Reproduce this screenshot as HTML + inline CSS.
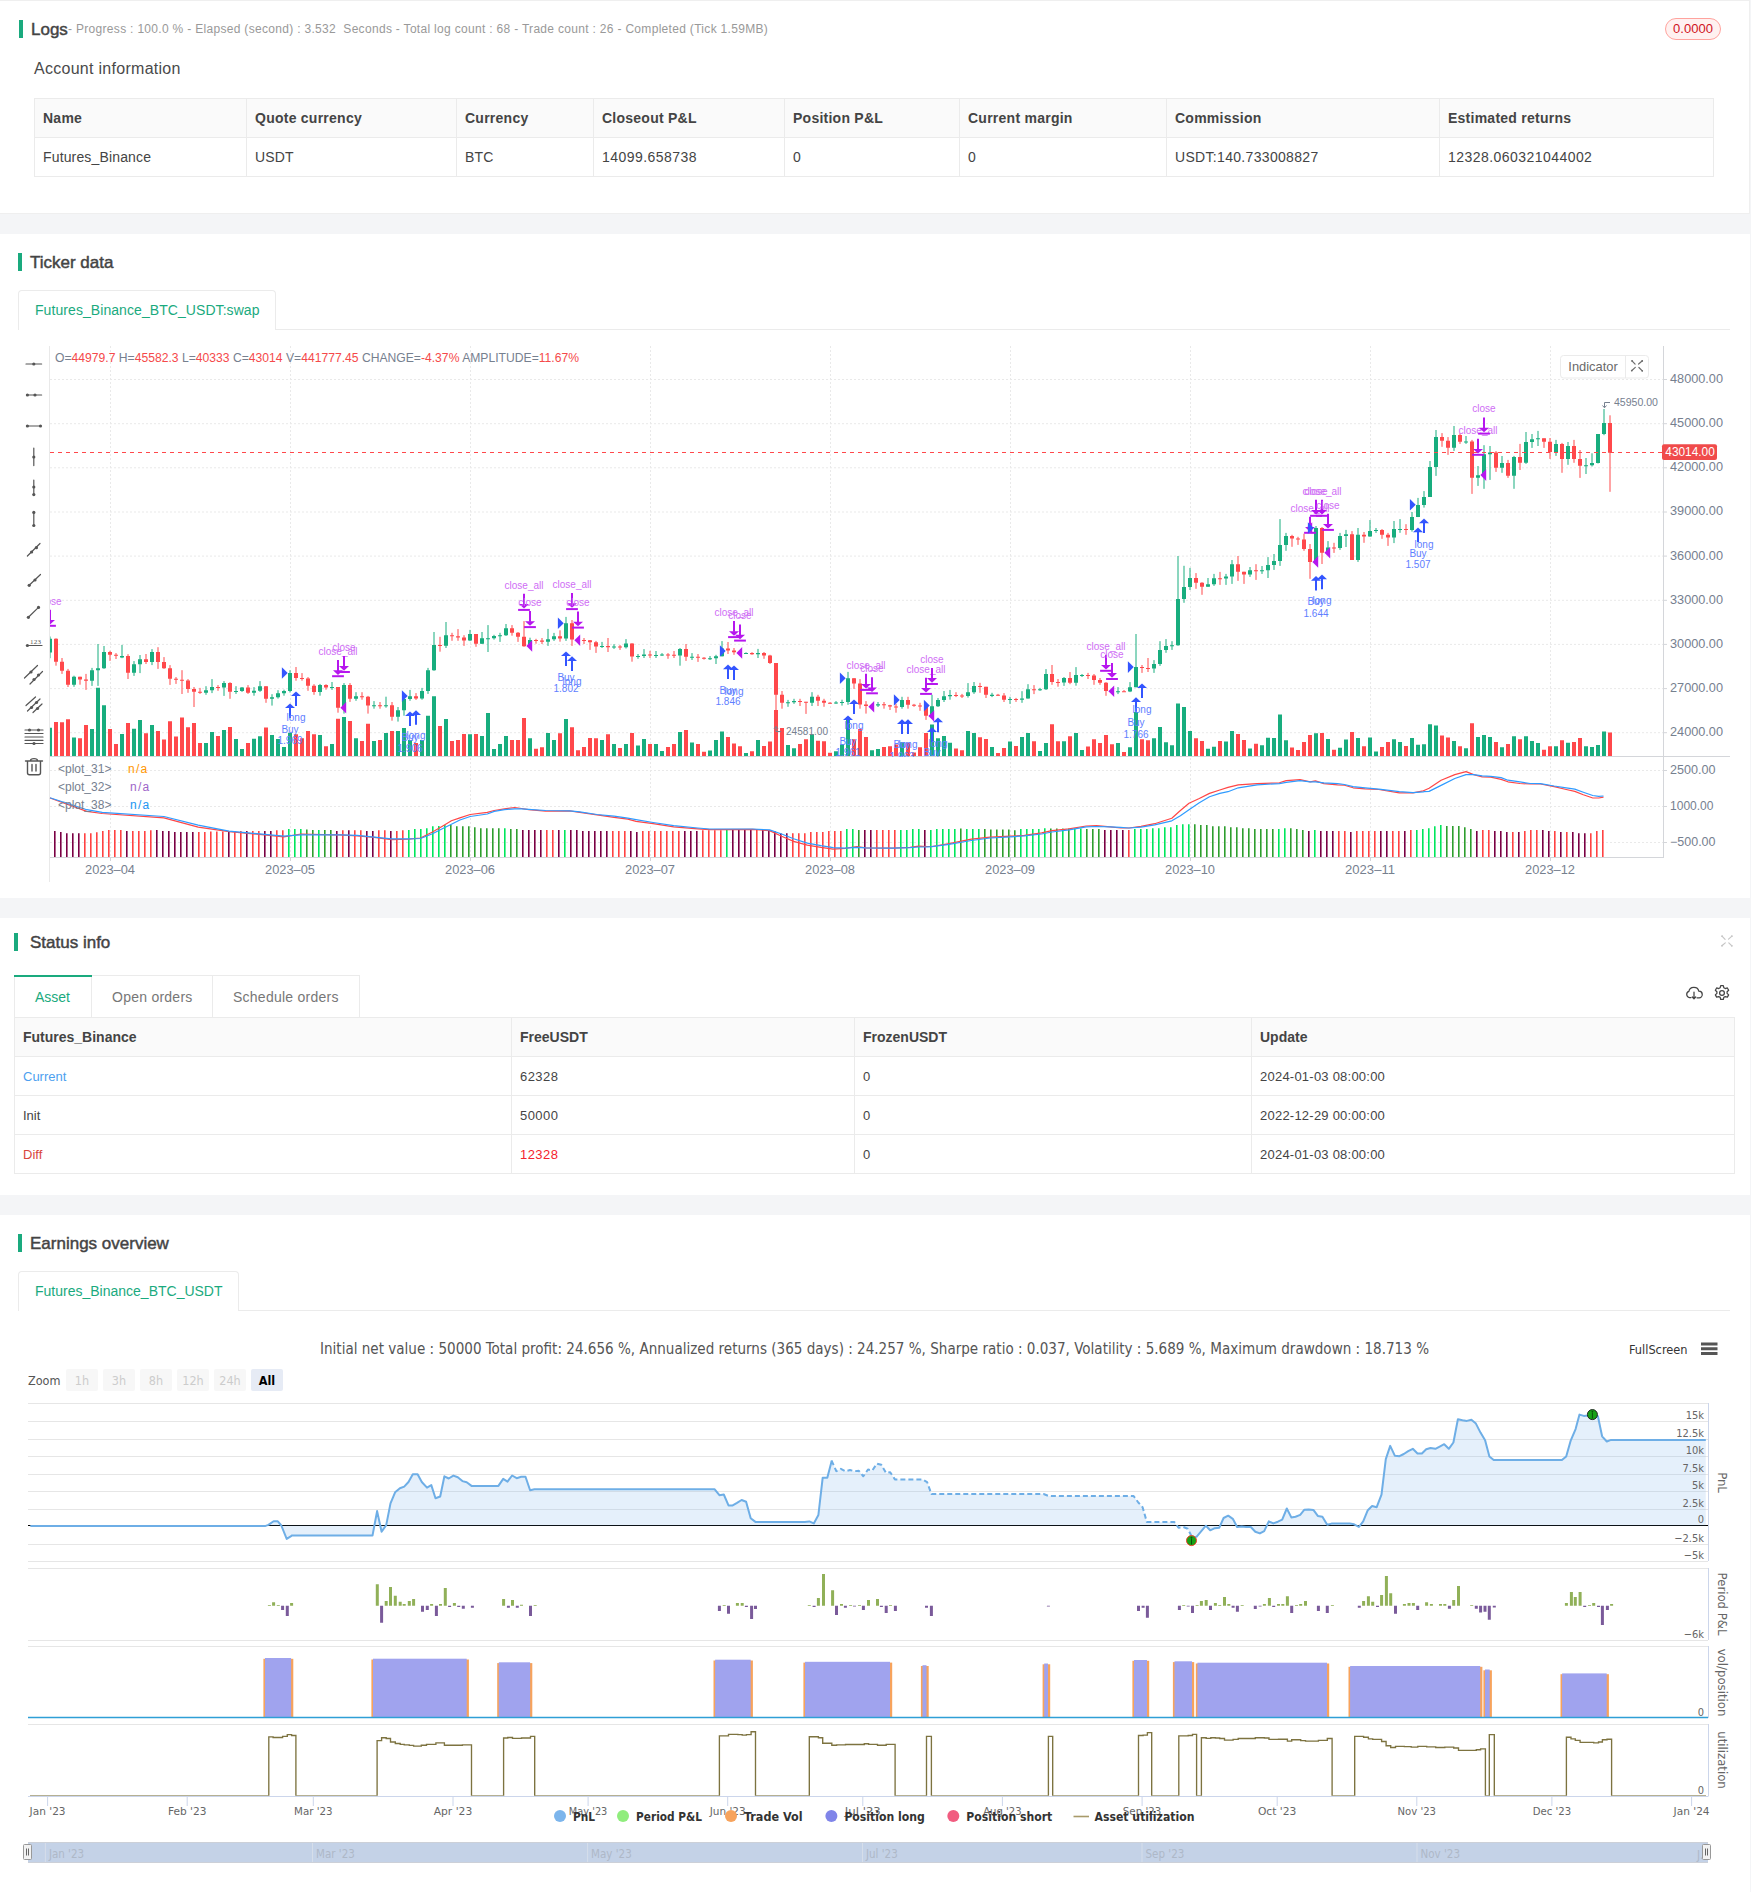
<!DOCTYPE html>
<html lang="en"><head><meta charset="utf-8"><title>Backtest</title>
<style>
*{box-sizing:border-box;margin:0;padding:0}
html,body{width:1751px;height:1892px;overflow:hidden}
body{position:relative;background:#f4f5f7;font-family:"Liberation Sans",sans-serif;color:#444;}
.abs{position:absolute}
.card{position:absolute;left:0;width:1750px;background:#fff}
.hbar{position:absolute;width:4px;height:18px;background:#1aaa7e}
.h{position:absolute;font-size:17px;font-weight:normal;color:#444;white-space:nowrap;line-height:20px;-webkit-text-stroke:0.45px #444}
.t{position:absolute;white-space:nowrap}
table.tb{position:absolute;border-collapse:collapse;table-layout:fixed;font-size:14px;color:#444}
table.tb td,table.tb th{border:1px solid #ebebeb;padding:0 0 0 8px;text-align:left;vertical-align:middle;white-space:nowrap;overflow:hidden;letter-spacing:0.15px}
table.tb th{background:#fafafa;font-weight:bold;color:#444;letter-spacing:0.25px}
table.tb td.n{letter-spacing:0.45px}
table.t2 th{letter-spacing:0}
table.t2 td{letter-spacing:0}
.tab{position:absolute;border:1px solid #ebebeb;border-bottom:none;background:#fff;border-radius:4px 4px 0 0;color:#1aaa7e;font-size:14px;line-height:20px;white-space:nowrap}
.line{position:absolute;background:#ebebeb;height:1px}
svg{position:absolute;left:0;top:0;overflow:visible}
svg text{white-space:pre}
</style></head>
<body>

<div class="card" style="left:-1px;top:0;width:1751px;height:214px;border:1px solid #efefef"></div>
<div class="hbar" style="left:19px;top:20px"></div>
<div class="h" style="left:31px;top:20px">Logs</div>
<div class="t" style="left:68px;top:21px;font-size:12px;line-height:16px;color:#999;letter-spacing:0.31px">- Progress : 100.0 % - Elapsed (second) : 3.532&nbsp; Seconds - Total log count : 68 - Trade count : 26 - Completed (Tick 1.59MB)</div>
<div class="t" style="left:1665px;top:18px;width:56px;height:22px;border:1px solid #ffa39e;background:#fff1f0;border-radius:11px;color:#cf1322;font-size:13px;line-height:20px;text-align:center">0.0000</div>
<div class="t" style="left:34px;top:59px;font-size:16px;line-height:20px;color:#4a4a4a;letter-spacing:0.28px">Account information</div>
<table class="tb" style="left:34px;top:98px;width:1679px">
<colgroup><col style="width:212px"><col style="width:210px"><col style="width:137px"><col style="width:191px"><col style="width:175px"><col style="width:207px"><col style="width:273px"><col style="width:274px"></colgroup>
<tr style="height:39px"><th>Name</th><th>Quote currency</th><th>Currency</th><th>Closeout P&amp;L</th><th>Position P&amp;L</th><th>Current margin</th><th>Commission</th><th>Estimated returns</th></tr>
<tr style="height:39px"><td>Futures_Binance</td><td>USDT</td><td>BTC</td><td class="n">14099.658738</td><td>0</td><td>0</td><td class="n" style="letter-spacing:0.32px">USDT:140.733008827</td><td class="n">12328.060321044002</td></tr>
</table>

<div class="card" style="top:234px;height:664px"></div>
<div class="hbar" style="left:18px;top:253px"></div>
<div class="h" style="left:30px;top:253px">Ticker data</div>
<div class="line" style="left:18px;top:329px;width:1712px"></div>
<div class="tab" style="left:18px;top:290px;width:258px;height:40px;padding:9px 0 0 16px;letter-spacing:0.07px">Futures_Binance_BTC_USDT:swap</div>
<svg width="1751" height="1892" viewBox="0 0 1751 1892">
<defs><clipPath id="kclip"><rect x="50" y="346" width="1613" height="411"/></clipPath></defs>
<path d="M50 732.7H1663M50 688.6H1663M50 644.4H1663M50 600.3H1663M50 556.1H1663M50 512H1663M50 467.8H1663M50 423.7H1663M50 379.5H1663M50 770.5H1663M50 806.5H1663M50 842.5H1663M110.5 346V857M290.5 346V857M470.5 346V857M650.5 346V857M830.5 346V857M1010.5 346V857M1190.5 346V857M1370.5 346V857M1550.5 346V857" stroke="#e9e9e9" stroke-width="1" stroke-dasharray="2 2" fill="none"/>
<path d="M49.5 346V882" stroke="#e9e9e9" stroke-width="1" fill="none"/>
<path d="M1663.5 346V857M50 857.5H1664M50 756.5H1730" stroke="#d4d6da" stroke-width="1" fill="none"/>
<path d="M1664 732.7h3M1664 688.6h3M1664 644.4h3M1664 600.3h3M1664 556.1h3M1664 512h3M1664 467.8h3M1664 423.7h3M1664 379.5h3M1664 770.5h3M1664 806.5h3M1664 842.5h3M110.5 858v3M290.5 858v3M470.5 858v3M650.5 858v3M830.5 858v3M1010.5 858v3M1190.5 858v3M1370.5 858v3M1550.5 858v3" stroke="#d4d6da" stroke-width="1" fill="none"/>
<g font-size="12" fill="#76808f" font-family="Liberation Sans, sans-serif">
<text x="1670" y="736.1" textLength="53" lengthAdjust="spacingAndGlyphs">24000.00</text>
<text x="1670" y="692" textLength="53" lengthAdjust="spacingAndGlyphs">27000.00</text>
<text x="1670" y="647.8" textLength="53" lengthAdjust="spacingAndGlyphs">30000.00</text>
<text x="1670" y="603.7" textLength="53" lengthAdjust="spacingAndGlyphs">33000.00</text>
<text x="1670" y="559.5" textLength="53" lengthAdjust="spacingAndGlyphs">36000.00</text>
<text x="1670" y="515.4" textLength="53" lengthAdjust="spacingAndGlyphs">39000.00</text>
<text x="1670" y="471.2" textLength="53" lengthAdjust="spacingAndGlyphs">42000.00</text>
<text x="1670" y="427.1" textLength="53" lengthAdjust="spacingAndGlyphs">45000.00</text>
<text x="1670" y="382.9" textLength="53" lengthAdjust="spacingAndGlyphs">48000.00</text>
<text x="1670" y="774.1" textLength="45.5" lengthAdjust="spacingAndGlyphs">2500.00</text>
<text x="1670" y="810.1" textLength="43.5" lengthAdjust="spacingAndGlyphs">1000.00</text>
<text x="1670" y="846.1" textLength="45.5" lengthAdjust="spacingAndGlyphs">−500.00</text>
<text x="110" y="874" text-anchor="middle" textLength="50" lengthAdjust="spacingAndGlyphs">2023–04</text>
<text x="290" y="874" text-anchor="middle" textLength="50" lengthAdjust="spacingAndGlyphs">2023–05</text>
<text x="470" y="874" text-anchor="middle" textLength="50" lengthAdjust="spacingAndGlyphs">2023–06</text>
<text x="650" y="874" text-anchor="middle" textLength="50" lengthAdjust="spacingAndGlyphs">2023–07</text>
<text x="830" y="874" text-anchor="middle" textLength="50" lengthAdjust="spacingAndGlyphs">2023–08</text>
<text x="1010" y="874" text-anchor="middle" textLength="50" lengthAdjust="spacingAndGlyphs">2023–09</text>
<text x="1190" y="874" text-anchor="middle" textLength="50" lengthAdjust="spacingAndGlyphs">2023–10</text>
<text x="1370" y="874" text-anchor="middle" textLength="50" lengthAdjust="spacingAndGlyphs">2023–11</text>
<text x="1550" y="874" text-anchor="middle" textLength="50" lengthAdjust="spacingAndGlyphs">2023–12</text>
</g>
<g clip-path="url(#kclip)">
<path d="M50 636.5V658.2M74 675.7V686.8M92 667.9V685.9M98 644V685.9M104 646V668.9M122 644.9V658.2M134 661.1V675.9M140 655V673.1M152 649.1V665.1M206 686.2V694.8M212 679.1V693.1M224 681.1V695.9M236 686.2V693.9M242 687V691.9M254 687.1V695.7M260 681.1V691.9M272 694.2V705.6M278 690.2V698.6M284 689.7V695.7M290 670.2V692.5M320 683.9V695.7M332 682V689.9M344 683.1V713.6M356 692.2V700.8M374 701.1V708.7M386 696.7V707.7M398 707V721.6M404 698.8V715.7M410 689.9V700.8M422 687.9V699.7M428 667.9V693.9M434 632V670.8M446 622V648M470 629.9V641.1M482 632V644M488 625.1V652M494 634.8V639.6M500 632.8V641.9M506 624V636M530 637.7V646.2M548 628.9V645.9M554 632.9V640.9M566 616.9V640.9M602 641.9V648M614 644.2V648.9M626 639.1V648.5M638 654V658.8M644 649.1V658M656 651V658M662 653.1V656M680 648V665.7M692 653.1V660M710 656V660M716 654.8V664M722 641.1V656.5M746 652.3V654M758 648.9V658M788 699.9V706.8M794 698.8V703.9M812 692.2V706M836 701.1V703.9M842 699.7V705.6M848 671.9V704.8M872 703.9V706.8M878 702V707M902 696.8V708.7M932 694.8V715.9M938 698V707M944 691V702M950 689.9V699.7M968 683.1V697.6M974 682V693.9M992 692.8V697.1M1010 696.8V703.9M1022 691.2V702.8M1028 684.2V698.7M1040 687.9V690.9M1046 669.1V690M1064 677V685.9M1076 667.1V685.7M1082 674V677M1118 687.1V694.1M1130 682.1V692.1M1136 634V687.3M1154 660.1V672.9M1160 641.2V665.9M1166 639.1V652.8M1172 641.2V649.9M1178 556V645.8M1184 565.8V602.8M1190 567.9V590M1208 578V586.8M1214 573.9V585.9M1226 573.9V584.9M1232 560V583.9M1250 567V576.9M1262 566V573.9M1268 557.1V578M1274 554V569.9M1280 519.1V565.9M1286 532.9V550.8M1316 526V562.2M1328 541.1V553.1M1340 532.9V549.9M1346 529.9V547M1358 528V561.9M1370 520V536.8M1376 528V532.9M1394 521V543.1M1400 519.1V532.8M1412 512V531.6M1418 497.9V517.1M1424 491.1V507.6M1430 461V497M1436 430V475.9M1454 426V450.9M1466 436V443.9M1478 466V485.9M1484 445.2V488.8M1490 446V479.9M1502 456V472.8M1514 455.9V488.8M1526 432V463.9M1532 434V447.9M1538 430.9V446M1556 439.9V455.9M1568 442V464.8M1586 458V474M1592 453.3V466.5M1598 434V463.5M1604 409V435.2" stroke="#18ad7e" stroke-width="1" fill="none"/>
<path d="M56 638.3V665.7M62 658V673.9M68 668.9V687M80 676.7V684.7M86 673.9V689.9M110 650.8V660.9M116 653.1V659M128 654.2V679M146 654V664M158 647.2V668.9M164 657.1V668.9M170 665.1V684.9M176 677.1V683.9M182 670.2V694M188 679.1V692.8M194 687V707M200 687.9V693.9M218 685.1V690.8M230 682.2V698.8M248 685.1V693.9M266 686.2V702.8M296 667V680.7M302 673.1V680.7M308 677.1V690.8M314 684.2V694.8M326 684.2V689.7M338 687.1V712.7M350 683.1V701.9M362 692.2V699.7M368 695.9V713.6M380 702V708.7M392 702V720.7M416 693.1V699.9M440 636.8V651.7M452 632.8V640.8M458 629.1V640.8M464 635.2V645.9M476 634V646.8M512 625.1V635.7M518 632V641.9M524 621.1V646.8M536 638.8V643.7M542 638V644M560 630.3V641.7M572 620V645.9M578 638.8V642.3M584 638V644M590 640V649.9M596 640.9V652.9M608 638V652M620 645.1V649.9M632 643.2V661.7M650 650.8V658M668 653.1V658.8M674 651V658M686 644V660.9M698 654V661.9M704 657.1V659.6M728 642V654M734 648V654.8M740 652V653.7M752 652.2V654.8M764 652V658.8M770 654.8V664M776 663V724.5M782 691V708.7M800 698.8V706M806 701.8V713.9M818 694.8V706M824 698.8V706.8M830 702.2V703.9M854 678V688.9M860 679.1V708.7M866 701.1V713.6M884 702V708.7M890 704.8V710M896 703.9V712.7M908 696.8V708.7M914 703.9V706.8M920 702.8V710.8M926 705.6V719.9M956 692.2V697.1M962 693.9V698M980 682.8V692.8M986 686.8V698M998 693.9V695.9M1004 693.1V702M1016 697.9V701.9M1034 685.1V694.1M1052 665V684.8M1058 679V686.7M1070 672V684.2M1088 672.9V679M1094 674V684.8M1100 678V684.8M1106 682.1V695.8M1112 690V692.9M1124 690V691.7M1142 665V672.9M1148 658V672M1196 573.1V588.8M1202 582.2V594.8M1220 571.9V584.9M1238 556V580.9M1244 571.7V583.9M1256 564.2V579.9M1292 534.8V546.8M1298 536.8V544.9M1304 533.7V550.8M1310 544V578.8M1322 527.1V564M1334 542.8V552.9M1352 531.1V560M1364 532V542.8M1382 529.1V538.8M1388 532.9V545.9M1406 524.2V534.8M1442 433.1V446.8M1448 437.1V454.9M1460 433.1V443.9M1472 439.9V493.9M1496 451.1V471.9M1508 459.9V477.9M1520 443.9V470M1544 438.3V447.9M1550 438V458.9M1562 442.9V472.8M1574 439.9V462.8M1580 450V477.9M1610 415.3V491.8" stroke="#ff484b" stroke-width="1" fill="none"/>
<path d="M48 727.7h4V756h-4zM72 737.6h4V756h-4zM90 729.1h4V756h-4zM96 687.7h4V756h-4zM102 705.3h4V756h-4zM120 733.9h4V756h-4zM132 728.8h4V756h-4zM138 720.1h4V756h-4zM150 725.1h4V756h-4zM204 743h4V756h-4zM210 732.1h4V756h-4zM222 730h4V756h-4zM234 739h4V756h-4zM240 749h4V756h-4zM252 738.8h4V756h-4zM258 736.3h4V756h-4zM270 735.1h4V756h-4zM276 739h4V756h-4zM282 747.1h4V756h-4zM288 732.8h4V756h-4zM318 735.1h4V756h-4zM330 744.1h4V756h-4zM342 717.1h4V756h-4zM354 738.2h4V756h-4zM372 741.1h4V756h-4zM384 733.1h4V756h-4zM396 731h4V756h-4zM402 727.9h4V756h-4zM408 739.9h4V756h-4zM420 739.9h4V756h-4zM426 715.7h4V756h-4zM432 696.2h4V756h-4zM444 719h4V756h-4zM468 734.2h4V756h-4zM480 735.9h4V756h-4zM486 713.1h4V756h-4zM492 749h4V756h-4zM498 743.9h4V756h-4zM504 736.1h4V756h-4zM528 738.2h4V756h-4zM546 733.1h4V756h-4zM552 740.1h4V756h-4zM564 719.1h4V756h-4zM600 740.1h4V756h-4zM612 744.1h4V756h-4zM624 744.1h4V756h-4zM636 745.4h4V756h-4zM642 739h4V756h-4zM654 744.1h4V756h-4zM660 751.1h4V756h-4zM678 732.1h4V756h-4zM690 742.4h4V756h-4zM708 750.4h4V756h-4zM714 740.1h4V756h-4zM720 731.6h4V756h-4zM744 753h4V756h-4zM756 740.1h4V756h-4zM786 745h4V756h-4zM792 748.2h4V756h-4zM810 734.2h4V756h-4zM834 751.3h4V756h-4zM840 744.5h4V756h-4zM846 717.1h4V756h-4zM870 750.2h4V756h-4zM876 749h4V756h-4zM900 742.2h4V756h-4zM930 724.5h4V756h-4zM936 738.2h4V756h-4zM942 735.9h4V756h-4zM948 742.8h4V756h-4zM966 731h4V756h-4zM972 733.1h4V756h-4zM990 747h4V756h-4zM1008 741.6h4V756h-4zM1020 737.1h4V756h-4zM1026 733h4V756h-4zM1038 751h4V756h-4zM1044 743.1h4V756h-4zM1062 741.2h4V756h-4zM1074 733h4V756h-4zM1080 749.9h4V756h-4zM1116 743.1h4V756h-4zM1128 747.3h4V756h-4zM1134 712.1h4V756h-4zM1152 738.3h4V756h-4zM1158 727h4V756h-4zM1164 742.3h4V756h-4zM1170 745.2h4V756h-4zM1176 703.4h4V756h-4zM1182 707.1h4V756h-4zM1188 731h4V756h-4zM1206 748.8h4V756h-4zM1212 746.8h4V756h-4zM1224 741.5h4V756h-4zM1230 731.1h4V756h-4zM1248 748.4h4V756h-4zM1260 745.3h4V756h-4zM1266 737.7h4V756h-4zM1272 738.1h4V756h-4zM1278 714.5h4V756h-4zM1284 740.3h4V756h-4zM1314 733.3h4V756h-4zM1326 739h4V756h-4zM1338 747.8h4V756h-4zM1344 739.4h4V756h-4zM1356 738.1h4V756h-4zM1368 737.4h4V756h-4zM1374 751.6h4V756h-4zM1392 739.3h4V756h-4zM1398 742.1h4V756h-4zM1410 738h4V756h-4zM1416 744.7h4V756h-4zM1422 744.3h4V756h-4zM1428 724.2h4V756h-4zM1434 725.4h4V756h-4zM1452 741.1h4V756h-4zM1464 748.2h4V756h-4zM1476 737.1h4V756h-4zM1482 735h4V756h-4zM1488 736.9h4V756h-4zM1500 747.2h4V756h-4zM1512 736.2h4V756h-4zM1524 736.2h4V756h-4zM1530 741.1h4V756h-4zM1536 743.1h4V756h-4zM1554 746.2h4V756h-4zM1566 742.8h4V756h-4zM1584 746.2h4V756h-4zM1590 746.9h4V756h-4zM1596 745h4V756h-4zM1602 731.5h4V756h-4z" fill="#18ad7e"/>
<path d="M54 722h4V756h-4zM60 722.2h4V756h-4zM66 719.3h4V756h-4zM78 738.2h4V756h-4zM84 725.1h4V756h-4zM108 729.1h4V756h-4zM114 744.1h4V756h-4zM126 723h4V756h-4zM144 733.3h4V756h-4zM156 731h4V756h-4zM162 739.6h4V756h-4zM168 721.2h4V756h-4zM174 736.5h4V756h-4zM180 717.6h4V756h-4zM186 727.3h4V756h-4zM192 723.1h4V756h-4zM198 743.1h4V756h-4zM216 736.1h4V756h-4zM228 727.1h4V756h-4zM246 743.1h4V756h-4zM264 727.6h4V756h-4zM294 734.2h4V756h-4zM300 738.2h4V756h-4zM306 731h4V756h-4zM312 734.2h4V756h-4zM324 746.2h4V756h-4zM336 718.8h4V756h-4zM348 721.1h4V756h-4zM360 741.1h4V756h-4zM366 723.7h4V756h-4zM378 740.1h4V756h-4zM390 731.1h4V756h-4zM414 743.1h4V756h-4zM438 726h4V756h-4zM450 741.1h4V756h-4zM456 740.1h4V756h-4zM462 734h4V756h-4zM474 734h4V756h-4zM510 740.1h4V756h-4zM516 740.1h4V756h-4zM522 717.9h4V756h-4zM534 748.8h4V756h-4zM540 747.3h4V756h-4zM558 733.3h4V756h-4zM570 727.3h4V756h-4zM576 750.2h4V756h-4zM582 747h4V756h-4zM588 737.9h4V756h-4zM594 738.2h4V756h-4zM606 734.2h4V756h-4zM618 748.1h4V756h-4zM630 733.1h4V756h-4zM648 744.1h4V756h-4zM666 747h4V756h-4zM672 743.9h4V756h-4zM684 730h4V756h-4zM696 743.9h4V756h-4zM702 751.7h4V756h-4zM726 737.1h4V756h-4zM732 743.6h4V756h-4zM738 746.2h4V756h-4zM750 751.3h4V756h-4zM762 746h4V756h-4zM768 741.6h4V756h-4zM774 710h4V756h-4zM780 728.1h4V756h-4zM798 743.9h4V756h-4zM804 739.3h4V756h-4zM816 740.8h4V756h-4zM822 741.3h4V756h-4zM828 752.7h4V756h-4zM852 739.3h4V756h-4zM858 729.1h4V756h-4zM864 737.1h4V756h-4zM882 747h4V756h-4zM888 746.2h4V756h-4zM894 744.5h4V756h-4zM906 742.8h4V756h-4zM912 752.5h4V756h-4zM918 747.3h4V756h-4zM924 733.1h4V756h-4zM954 748.5h4V756h-4zM960 750.2h4V756h-4zM978 737.3h4V756h-4zM984 739h4V756h-4zM996 753h4V756h-4zM1002 748.1h4V756h-4zM1014 746h4V756h-4zM1032 741.2h4V756h-4zM1050 724.3h4V756h-4zM1056 741.2h4V756h-4zM1068 736.2h4V756h-4zM1086 746.4h4V756h-4zM1092 739.2h4V756h-4zM1098 743.1h4V756h-4zM1104 735.1h4V756h-4zM1110 744.3h4V756h-4zM1122 752h4V756h-4zM1140 739.2h4V756h-4zM1146 740.2h4V756h-4zM1194 738.3h4V756h-4zM1200 741.1h4V756h-4zM1218 741.1h4V756h-4zM1236 734h4V756h-4zM1242 740h4V756h-4zM1254 743.8h4V756h-4zM1290 747.5h4V756h-4zM1296 749.9h4V756h-4zM1302 742.1h4V756h-4zM1308 735h4V756h-4zM1320 733.1h4V756h-4zM1332 749.7h4V756h-4zM1350 732.1h4V756h-4zM1362 746.2h4V756h-4zM1380 746.9h4V756h-4zM1386 741.9h4V756h-4zM1404 745.9h4V756h-4zM1440 735.5h4V756h-4zM1446 737.5h4V756h-4zM1458 746.2h4V756h-4zM1470 723.3h4V756h-4zM1494 742.1h4V756h-4zM1506 744h4V756h-4zM1518 739.3h4V756h-4zM1542 749.7h4V756h-4zM1548 746.3h4V756h-4zM1560 740.3h4V756h-4zM1572 742.1h4V756h-4zM1578 738.1h4V756h-4zM1608 732.5h4V756h-4z" fill="#ff484b"/>
<path d="M48 638.8h4V652.5h-4zM72 676.7h4V684.7h-4zM90 670.2h4V680.7h-4zM96 668.2h4V670.2h-4zM102 652h4V668.2h-4zM120 656.1h4V657.4h-4zM132 664.2h4V672.7h-4zM138 659.2h4V664.2h-4zM150 652h4V661.9h-4zM204 690.2h4V692.8h-4zM210 687.1h4V690.2h-4zM222 683h4V687.6h-4zM234 691h4V692h-4zM240 687.4h4V691h-4zM252 690.8h4V692.8h-4zM258 686.2h4V690.8h-4zM270 697.3h4V698.8h-4zM276 693.3h4V697.3h-4zM282 691h4V693.3h-4zM288 673.1h4V691h-4zM318 685.1h4V691.9h-4zM330 687.1h4V688.1h-4zM342 685.1h4V707.7h-4zM354 696.2h4V698.8h-4zM372 705.3h4V706.3h-4zM384 705.3h4V706.3h-4zM396 710.2h4V716.7h-4zM402 699h4V710.2h-4zM408 696.3h4V699h-4zM420 691h4V698.6h-4zM426 670.2h4V691h-4zM432 645.1h4V670.2h-4zM444 635.2h4V645.7h-4zM468 634h4V640.5h-4zM480 638.3h4V643.7h-4zM486 638.3h4V639.3h-4zM492 636h4V638.3h-4zM498 635.2h4V636.2h-4zM504 628.2h4V635.2h-4zM528 640h4V646.2h-4zM546 639.2h4V641.7h-4zM552 636.2h4V639.2h-4zM564 623.2h4V638.6h-4zM600 646h4V647h-4zM612 646.5h4V647.5h-4zM624 643.4h4V647.2h-4zM636 656h4V657h-4zM642 654.5h4V656h-4zM654 655h4V656h-4zM660 654.5h4V655.5h-4zM678 648.9h4V655.4h-4zM690 656.8h4V657.8h-4zM708 658.2h4V659.2h-4zM714 656.2h4V658.2h-4zM720 648.5h4V656.2h-4zM744 653.1h4V654.1h-4zM756 653.1h4V654.2h-4zM786 702.2h4V703.2h-4zM792 701.1h4V702.2h-4zM810 696.8h4V702.8h-4zM834 702.4h4V703.4h-4zM840 702h4V703h-4zM846 678.2h4V702h-4zM870 705.4h4V706.4h-4zM876 704.3h4V705.4h-4zM900 699.9h4V707h-4zM930 706.2h4V715.7h-4zM936 699.9h4V706.2h-4zM942 696.2h4V699.9h-4zM948 695.1h4V696.2h-4zM966 692.2h4V695.9h-4zM972 686h4V692.2h-4zM990 694.8h4V695.9h-4zM1008 699.1h4V700.1h-4zM1020 698.4h4V699.7h-4zM1026 689.2h4V698.4h-4zM1038 689.2h4V690.2h-4zM1044 674.1h4V689.2h-4zM1062 678h4V682.4h-4zM1074 675.1h4V682.8h-4zM1080 675.1h4V676.1h-4zM1116 691.2h4V692.2h-4zM1128 687.3h4V691.5h-4zM1134 667.1h4V687.3h-4zM1152 664.1h4V668.5h-4zM1158 650.1h4V664.1h-4zM1164 646h4V650.1h-4zM1170 645.2h4V646.2h-4zM1176 599.1h4V645.2h-4zM1182 587.1h4V599.1h-4zM1188 578h4V587.1h-4zM1206 584.2h4V586.8h-4zM1212 578.2h4V584.2h-4zM1224 576.5h4V578.6h-4zM1230 564.2h4V576.5h-4zM1248 570.2h4V574.6h-4zM1260 570.2h4V571.2h-4zM1266 565.1h4V570.2h-4zM1272 561.1h4V565.1h-4zM1278 545.1h4V561.1h-4zM1284 536h4V545.1h-4zM1314 528h4V561.9h-4zM1326 547.4h4V552.8h-4zM1338 536h4V548h-4zM1344 534.3h4V536h-4zM1356 534.8h4V560h-4zM1368 531.1h4V536.5h-4zM1374 529.9h4V531.1h-4zM1392 529.1h4V537.5h-4zM1398 529.1h4V530.1h-4zM1410 517.1h4V529.9h-4zM1416 505.1h4V517.1h-4zM1422 497h4V505.1h-4zM1428 467.1h4V497h-4zM1434 437.1h4V467.1h-4zM1452 435.1h4V447.7h-4zM1464 441.4h4V442.4h-4zM1476 475.3h4V477.7h-4zM1482 454.2h4V475.3h-4zM1488 452.5h4V454.2h-4zM1500 463.1h4V467.7h-4zM1512 457h4V475.7h-4zM1524 442h4V462.8h-4zM1530 439.3h4V442h-4zM1536 438.3h4V439.3h-4zM1554 444h4V452h-4zM1566 446h4V458.9h-4zM1584 465.2h4V466.2h-4zM1590 462.9h4V465.2h-4zM1596 434h4V462.9h-4zM1602 423.1h4V434h-4z" fill="#18ad7e"/>
<path d="M54 638.8h4V661.7h-4zM60 661.7h4V670.8h-4zM66 670.8h4V684.7h-4zM78 676.7h4V679.6h-4zM84 679.6h4V680.7h-4zM108 652h4V654.8h-4zM114 654.8h4V655.8h-4zM126 656.1h4V672.7h-4zM144 659.2h4V661.9h-4zM156 652h4V661.9h-4zM162 661.9h4V668.2h-4zM168 668.2h4V678.8h-4zM174 678.8h4V679.8h-4zM180 679.7h4V680.7h-4zM186 680.6h4V688.9h-4zM192 688.9h4V691.7h-4zM198 691.7h4V692.8h-4zM216 687.1h4V688.1h-4zM228 683h4V691.7h-4zM246 687.4h4V692.8h-4zM264 686.2h4V698.8h-4zM294 673.1h4V677.9h-4zM300 677.9h4V678.9h-4zM306 678.6h4V685.7h-4zM312 685.7h4V691.9h-4zM324 685.1h4V687.4h-4zM336 687.1h4V707.7h-4zM348 685.1h4V698.8h-4zM360 696.2h4V697.2h-4zM366 696.7h4V705.6h-4zM378 705.3h4V706.3h-4zM390 705.3h4V716.7h-4zM414 696.3h4V698.6h-4zM438 645.1h4V646.1h-4zM450 635.2h4V636.2h-4zM456 636.2h4V637.5h-4zM462 637.5h4V640.5h-4zM474 634h4V643.7h-4zM510 628.2h4V632.8h-4zM516 632.8h4V636.8h-4zM522 636.8h4V646.2h-4zM534 640h4V641h-4zM540 640.5h4V641.7h-4zM558 636.2h4V638.6h-4zM570 623.2h4V639.6h-4zM576 639.6h4V640.6h-4zM582 640.1h4V641.1h-4zM588 640.3h4V642.3h-4zM594 642.3h4V646.6h-4zM606 646h4V647.2h-4zM618 646.5h4V647.5h-4zM630 643.4h4V656.5h-4zM648 654.5h4V655.5h-4zM666 654.5h4V655.5h-4zM672 654.7h4V655.7h-4zM684 648.9h4V656.8h-4zM696 656.8h4V657.8h-4zM702 657.7h4V658.7h-4zM726 648.5h4V650.5h-4zM732 650.5h4V652.3h-4zM738 652.3h4V653.3h-4zM750 653.1h4V654.2h-4zM762 653.1h4V655.4h-4zM768 655.4h4V663h-4zM774 663h4V694.8h-4zM780 694.8h4V702.8h-4zM798 701.1h4V702.1h-4zM804 701.8h4V702.8h-4zM816 696.8h4V700.7h-4zM822 700.7h4V702.8h-4zM828 702.8h4V703.8h-4zM852 678.2h4V683.4h-4zM858 683.4h4V704.5h-4zM864 704.5h4V705.9h-4zM882 704.3h4V705.3h-4zM888 705.3h4V706.4h-4zM894 706.4h4V707.4h-4zM906 699.9h4V704.8h-4zM912 704.8h4V705.8h-4zM918 705.6h4V706.6h-4zM924 705.9h4V715.7h-4zM954 695.1h4V696.1h-4zM960 695.6h4V696.6h-4zM978 686h4V687h-4zM984 686.8h4V694.8h-4zM996 694.8h4V695.8h-4zM1002 695.6h4V699.7h-4zM1014 699.1h4V700.1h-4zM1032 689.2h4V690.2h-4zM1050 674.1h4V681.9h-4zM1056 681.9h4V682.9h-4zM1068 678h4V682.8h-4zM1086 675.1h4V676.1h-4zM1092 675.5h4V679.9h-4zM1098 679.9h4V682.8h-4zM1104 682.8h4V690.9h-4zM1110 690.9h4V691.9h-4zM1122 691.2h4V692.2h-4zM1140 667.1h4V668.1h-4zM1146 667.9h4V668.9h-4zM1194 578h4V582.8h-4zM1200 582.8h4V586.8h-4zM1218 578.2h4V579.2h-4zM1236 564.2h4V571.7h-4zM1242 571.7h4V574.6h-4zM1254 570.2h4V571.2h-4zM1290 536h4V538.6h-4zM1296 538.6h4V539.6h-4zM1302 539.6h4V548.9h-4zM1308 548.9h4V561.9h-4zM1320 528h4V552.8h-4zM1332 547.4h4V548.4h-4zM1350 534.3h4V560h-4zM1362 534.8h4V536.5h-4zM1380 529.9h4V534.8h-4zM1386 534.8h4V537.5h-4zM1404 529.1h4V530.1h-4zM1440 437.1h4V440.8h-4zM1446 440.8h4V447.7h-4zM1458 435.1h4V441.7h-4zM1470 441.4h4V477.7h-4zM1494 452.5h4V467.7h-4zM1506 463.1h4V475.7h-4zM1518 457h4V462.8h-4zM1542 438.3h4V441.7h-4zM1548 441.7h4V452h-4zM1560 444h4V458.9h-4zM1572 446h4V458.9h-4zM1578 458.9h4V465.7h-4zM1608 423.1h4V452.8h-4z" fill="#ff484b"/>
</g>
<path d="M50 452.5H1663" stroke="#ff484b" stroke-width="1" stroke-dasharray="4 4" fill="none"/><rect x="1662" y="444.3" width="55" height="15.6" rx="2" fill="#f04b4b"/><text x="1665.3" y="456.3" font-size="12" fill="#fff" font-family="Liberation Sans, sans-serif" textLength="49.5" lengthAdjust="spacingAndGlyphs">43014.00</text><path d="M1610 402.5H1604.5V407.5M1602.5 405.5l2 2.3l2-2.3" stroke="#76808f" stroke-width="1" fill="none"/><text x="1614" y="406" font-size="10" fill="#76808f" font-family="Liberation Sans, sans-serif" textLength="44" lengthAdjust="spacingAndGlyphs">45950.00</text><path d="M776 726.5V731.5H781M774 728.8l2-2.3l2 2.3" stroke="#76808f" stroke-width="1" fill="none"/><text x="786" y="735" font-size="10" fill="#76808f" font-family="Liberation Sans, sans-serif" textLength="42" lengthAdjust="spacingAndGlyphs">24581.00</text>
<g clip-path="url(#kclip)" font-family="Liberation Sans, sans-serif">
<text x="50" y="604.5" text-anchor="middle" font-size="10" fill="#cf6ef5">close</text><path d="M50 609.7V620.5" stroke="#b616ee" stroke-width="2" fill="none"/><path d="M45 619.9h10l-5 4.6z" fill="#b616ee"/><path d="M44.1 625.8h11.8" stroke="#b616ee" stroke-width="2" fill="none"/>
<path d="M287.7 673l-5.8 -5.8v11.6z" fill="#3355ff"/>
<path d="M290 703.4l5 4.7h-10z" fill="#3355ff"/><path d="M290 707.4V718" stroke="#3355ff" stroke-width="2" fill="none"/>
<text x="290" y="732.5" text-anchor="middle" font-size="10" fill="#5f80ff">Buy</text>
<text x="290" y="744.1" text-anchor="middle" font-size="10" fill="#5f80ff">1.969</text>
<path d="M296 691.4l5 4.7h-10z" fill="#3355ff"/><path d="M296 695.4V706" stroke="#3355ff" stroke-width="2" fill="none"/>
<text x="296" y="720.5" text-anchor="middle" font-size="10" fill="#5f80ff">long</text>
<text x="338" y="654.9" text-anchor="middle" font-size="10" fill="#cf6ef5">close_all</text><path d="M338 660.1V670.9" stroke="#b616ee" stroke-width="2" fill="none"/><path d="M333 670.3h10l-5 4.6z" fill="#b616ee"/><path d="M332.1 676.2h11.8" stroke="#b616ee" stroke-width="2" fill="none"/>
<text x="344" y="650.7" text-anchor="middle" font-size="10" fill="#cf6ef5">close</text><path d="M344 655.9V666.7" stroke="#b616ee" stroke-width="2" fill="none"/><path d="M339 666.1h10l-5 4.6z" fill="#b616ee"/><path d="M338.1 672h11.8" stroke="#b616ee" stroke-width="2" fill="none"/>
<path d="M340.4 707.7l5.8 -5.8v11.6z" fill="#b616ee"/>
<path d="M407.7 696l-5.8 -5.8v11.6z" fill="#3355ff"/>
<path d="M410 711.4l5 4.7h-10z" fill="#3355ff"/><path d="M410 715.4V726" stroke="#3355ff" stroke-width="2" fill="none"/>
<text x="410" y="740.5" text-anchor="middle" font-size="10" fill="#5f80ff">Buy</text>
<text x="410" y="752.1" text-anchor="middle" font-size="10" fill="#5f80ff">1.906</text>
<path d="M416 710.2l5 4.7h-10z" fill="#3355ff"/><path d="M416 714.2V724.8" stroke="#3355ff" stroke-width="2" fill="none"/>
<text x="416" y="739.3" text-anchor="middle" font-size="10" fill="#5f80ff">long</text>
<text x="524" y="588.6" text-anchor="middle" font-size="10" fill="#cf6ef5">close_all</text><path d="M524 593.8V604.6" stroke="#b616ee" stroke-width="2" fill="none"/><path d="M519 604h10l-5 4.6z" fill="#b616ee"/><path d="M518.1 609.9h11.8" stroke="#b616ee" stroke-width="2" fill="none"/>
<text x="530" y="605.8" text-anchor="middle" font-size="10" fill="#cf6ef5">close</text><path d="M530 611V621.8" stroke="#b616ee" stroke-width="2" fill="none"/><path d="M525 621.2h10l-5 4.6z" fill="#b616ee"/><path d="M524.1 627.1h11.8" stroke="#b616ee" stroke-width="2" fill="none"/>
<path d="M526.4 646l5.8 -5.8v11.6z" fill="#b616ee"/>
<path d="M563.7 623.2l-5.8 -5.8v11.6z" fill="#3355ff"/>
<path d="M566 651.4l5 4.7h-10z" fill="#3355ff"/><path d="M566 655.4V666" stroke="#3355ff" stroke-width="2" fill="none"/>
<text x="566" y="680.5" text-anchor="middle" font-size="10" fill="#5f80ff">Buy</text>
<text x="566" y="692.1" text-anchor="middle" font-size="10" fill="#5f80ff">1.802</text>
<path d="M572 656.3l5 4.7h-10z" fill="#3355ff"/><path d="M572 660.3V670.9" stroke="#3355ff" stroke-width="2" fill="none"/>
<text x="572" y="685.4" text-anchor="middle" font-size="10" fill="#5f80ff">long</text>
<text x="572" y="587.8" text-anchor="middle" font-size="10" fill="#cf6ef5">close_all</text><path d="M572 593V603.8" stroke="#b616ee" stroke-width="2" fill="none"/><path d="M567 603.2h10l-5 4.6z" fill="#b616ee"/><path d="M566.1 609.1h11.8" stroke="#b616ee" stroke-width="2" fill="none"/>
<text x="578" y="606.3" text-anchor="middle" font-size="10" fill="#cf6ef5">close</text><path d="M578 611.5V622.3" stroke="#b616ee" stroke-width="2" fill="none"/><path d="M573 621.7h10l-5 4.6z" fill="#b616ee"/><path d="M572.1 627.6h11.8" stroke="#b616ee" stroke-width="2" fill="none"/>
<path d="M574.4 640.2l5.8 -5.8v11.6z" fill="#b616ee"/>
<path d="M725.7 651l-5.8 -5.8v11.6z" fill="#3355ff"/>
<path d="M728 664.5l5 4.7h-10z" fill="#3355ff"/><path d="M728 668.5V679.1" stroke="#3355ff" stroke-width="2" fill="none"/>
<text x="728" y="693.6" text-anchor="middle" font-size="10" fill="#5f80ff">Buy</text>
<text x="728" y="705.2" text-anchor="middle" font-size="10" fill="#5f80ff">1.846</text>
<path d="M734 665.4l5 4.7h-10z" fill="#3355ff"/><path d="M734 669.4V680" stroke="#3355ff" stroke-width="2" fill="none"/>
<text x="734" y="694.5" text-anchor="middle" font-size="10" fill="#5f80ff">long</text>
<text x="734" y="615.8" text-anchor="middle" font-size="10" fill="#cf6ef5">close_all</text><path d="M734 621V631.8" stroke="#b616ee" stroke-width="2" fill="none"/><path d="M729 631.2h10l-5 4.6z" fill="#b616ee"/><path d="M728.1 637.1h11.8" stroke="#b616ee" stroke-width="2" fill="none"/>
<text x="740" y="619.3" text-anchor="middle" font-size="10" fill="#cf6ef5">close</text><path d="M740 624.5V635.3" stroke="#b616ee" stroke-width="2" fill="none"/><path d="M735 634.7h10l-5 4.6z" fill="#b616ee"/><path d="M734.1 640.6h11.8" stroke="#b616ee" stroke-width="2" fill="none"/>
<path d="M736.4 652.9l5.8 -5.8v11.6z" fill="#b616ee"/>
<path d="M845.7 678.2l-5.8 -5.8v11.6z" fill="#3355ff"/>
<path d="M848 715.4l5 4.7h-10z" fill="#3355ff"/><path d="M848 719.4V730" stroke="#3355ff" stroke-width="2" fill="none"/>
<text x="848" y="744.5" text-anchor="middle" font-size="10" fill="#5f80ff">Buy</text>
<text x="848" y="756.1" text-anchor="middle" font-size="10" fill="#5f80ff">1.961</text>
<path d="M854 699.4l5 4.7h-10z" fill="#3355ff"/><path d="M854 703.4V714" stroke="#3355ff" stroke-width="2" fill="none"/>
<text x="854" y="728.5" text-anchor="middle" font-size="10" fill="#5f80ff">long</text>
<text x="866" y="668.6" text-anchor="middle" font-size="10" fill="#cf6ef5">close_all</text><path d="M866 673.8V684.6" stroke="#b616ee" stroke-width="2" fill="none"/><path d="M861 684h10l-5 4.6z" fill="#b616ee"/><path d="M860.1 689.9h11.8" stroke="#b616ee" stroke-width="2" fill="none"/>
<text x="872" y="672" text-anchor="middle" font-size="10" fill="#cf6ef5">close</text><path d="M872 677.2V688" stroke="#b616ee" stroke-width="2" fill="none"/><path d="M867 687.4h10l-5 4.6z" fill="#b616ee"/><path d="M866.1 693.3h11.8" stroke="#b616ee" stroke-width="2" fill="none"/>
<path d="M868.4 706.8l5.8 -5.8v11.6z" fill="#b616ee"/>
<path d="M899.7 700l-5.8 -5.8v11.6z" fill="#3355ff"/>
<path d="M902 719.3l5 4.7h-10z" fill="#3355ff"/><path d="M902 723.3V733.9" stroke="#3355ff" stroke-width="2" fill="none"/>
<text x="902" y="748.4" text-anchor="middle" font-size="10" fill="#5f80ff">Buy</text>
<text x="902" y="760" text-anchor="middle" font-size="10" fill="#5f80ff">1.963</text>
<path d="M908 719.3l5 4.7h-10z" fill="#3355ff"/><path d="M908 723.3V733.9" stroke="#3355ff" stroke-width="2" fill="none"/>
<text x="908" y="748.4" text-anchor="middle" font-size="10" fill="#5f80ff">long</text>
<text x="926" y="672.6" text-anchor="middle" font-size="10" fill="#cf6ef5">close_all</text><path d="M926 677.8V688.6" stroke="#b616ee" stroke-width="2" fill="none"/><path d="M921 688h10l-5 4.6z" fill="#b616ee"/><path d="M920.1 693.9h11.8" stroke="#b616ee" stroke-width="2" fill="none"/>
<text x="932" y="662.7" text-anchor="middle" font-size="10" fill="#cf6ef5">close</text><path d="M932 667.9V678.7" stroke="#b616ee" stroke-width="2" fill="none"/><path d="M927 678.1h10l-5 4.6z" fill="#b616ee"/><path d="M926.1 684h11.8" stroke="#b616ee" stroke-width="2" fill="none"/>
<path d="M928.4 716l5.8 -5.8v11.6z" fill="#b616ee"/>
<path d="M929.7 705.6l-5.8 -5.8v11.6z" fill="#3355ff"/>
<path d="M932 727.3l5 4.7h-10z" fill="#3355ff"/><path d="M932 731.3V741.9" stroke="#3355ff" stroke-width="2" fill="none"/>
<text x="932" y="756.4" text-anchor="middle" font-size="10" fill="#5f80ff">Buy</text>
<text x="932" y="768" text-anchor="middle" font-size="10" fill="#5f80ff">1.906</text>
<path d="M938 717.6l5 4.7h-10z" fill="#3355ff"/><path d="M938 721.6V732.2" stroke="#3355ff" stroke-width="2" fill="none"/>
<text x="938" y="746.7" text-anchor="middle" font-size="10" fill="#5f80ff">long</text>
<text x="1106" y="649.5" text-anchor="middle" font-size="10" fill="#cf6ef5">close_all</text><path d="M1106 654.7V665.5" stroke="#b616ee" stroke-width="2" fill="none"/><path d="M1101 664.9h10l-5 4.6z" fill="#b616ee"/><path d="M1100.1 670.8h11.8" stroke="#b616ee" stroke-width="2" fill="none"/>
<text x="1112" y="657.7" text-anchor="middle" font-size="10" fill="#cf6ef5">close</text><path d="M1112 662.9V673.7" stroke="#b616ee" stroke-width="2" fill="none"/><path d="M1107 673.1h10l-5 4.6z" fill="#b616ee"/><path d="M1106.1 679h11.8" stroke="#b616ee" stroke-width="2" fill="none"/>
<path d="M1108.4 691.2l5.8 -5.8v11.6z" fill="#b616ee"/>
<path d="M1133.7 667.1l-5.8 -5.8v11.6z" fill="#3355ff"/>
<path d="M1136 697.2l5 4.7h-10z" fill="#3355ff"/><path d="M1136 701.2V711.8" stroke="#3355ff" stroke-width="2" fill="none"/>
<text x="1136" y="726.3" text-anchor="middle" font-size="10" fill="#5f80ff">Buy</text>
<text x="1136" y="737.9" text-anchor="middle" font-size="10" fill="#5f80ff">1.766</text>
<path d="M1142 683.4l5 4.7h-10z" fill="#3355ff"/><path d="M1142 687.4V698" stroke="#3355ff" stroke-width="2" fill="none"/>
<text x="1142" y="712.5" text-anchor="middle" font-size="10" fill="#5f80ff">long</text>
<path d="M1306.4 528l5.8 -5.8v11.6z" fill="#b616ee"/>
<text x="1310" y="511.5" text-anchor="middle" font-size="10" fill="#cf6ef5">close_all</text><path d="M1310 516.7V527.5" stroke="#b616ee" stroke-width="2" fill="none"/><path d="M1305 526.9h10l-5 4.6z" fill="#b616ee"/><path d="M1304.1 532.8h11.8" stroke="#b616ee" stroke-width="2" fill="none"/>
<path d="M1312.4 561.9l5.8 -5.8v11.6z" fill="#b616ee"/>
<text x="1316" y="494.5" text-anchor="middle" font-size="10" fill="#cf6ef5">close</text><path d="M1316 499.7V510.5" stroke="#b616ee" stroke-width="2" fill="none"/><path d="M1311 509.9h10l-5 4.6z" fill="#b616ee"/><path d="M1310.1 515.8h11.8" stroke="#b616ee" stroke-width="2" fill="none"/>
<text x="1322" y="494.5" text-anchor="middle" font-size="10" fill="#cf6ef5">close_all</text><path d="M1322 499.7V510.5" stroke="#b616ee" stroke-width="2" fill="none"/><path d="M1317 509.9h10l-5 4.6z" fill="#b616ee"/><path d="M1316.1 515.8h11.8" stroke="#b616ee" stroke-width="2" fill="none"/>
<text x="1328" y="508.6" text-anchor="middle" font-size="10" fill="#cf6ef5">close</text><path d="M1328 513.8V524.6" stroke="#b616ee" stroke-width="2" fill="none"/><path d="M1323 524h10l-5 4.6z" fill="#b616ee"/><path d="M1322.1 529.9h11.8" stroke="#b616ee" stroke-width="2" fill="none"/>
<path d="M1324.4 552.8l5.8 -5.8v11.6z" fill="#b616ee"/>
<path d="M1313.7 528l-5.8 -5.8v11.6z" fill="#3355ff"/>
<path d="M1316 576l5 4.7h-10z" fill="#3355ff"/><path d="M1316 580V590.6" stroke="#3355ff" stroke-width="2" fill="none"/>
<text x="1316" y="605.1" text-anchor="middle" font-size="10" fill="#5f80ff">Buy</text>
<text x="1316" y="616.7" text-anchor="middle" font-size="10" fill="#5f80ff">1.644</text>
<path d="M1322 574.6l5 4.7h-10z" fill="#3355ff"/><path d="M1322 578.6V589.2" stroke="#3355ff" stroke-width="2" fill="none"/>
<text x="1322" y="603.7" text-anchor="middle" font-size="10" fill="#5f80ff">long</text>
<path d="M1415.7 504.8l-5.8 -5.8v11.6z" fill="#3355ff"/>
<path d="M1418 527.6l5 4.7h-10z" fill="#3355ff"/><path d="M1418 531.6V542.2" stroke="#3355ff" stroke-width="2" fill="none"/>
<text x="1418" y="556.7" text-anchor="middle" font-size="10" fill="#5f80ff">Buy</text>
<text x="1418" y="568.3" text-anchor="middle" font-size="10" fill="#5f80ff">1.507</text>
<path d="M1424 518.5l5 4.7h-10z" fill="#3355ff"/><path d="M1424 522.5V533.1" stroke="#3355ff" stroke-width="2" fill="none"/>
<text x="1424" y="547.6" text-anchor="middle" font-size="10" fill="#5f80ff">long</text>
<text x="1478" y="433.5" text-anchor="middle" font-size="10" fill="#cf6ef5">close_all</text><path d="M1478 438.7V449.5" stroke="#b616ee" stroke-width="2" fill="none"/><path d="M1473 448.9h10l-5 4.6z" fill="#b616ee"/><path d="M1472.1 454.8h11.8" stroke="#b616ee" stroke-width="2" fill="none"/>
<text x="1484" y="412.3" text-anchor="middle" font-size="10" fill="#cf6ef5">close</text><path d="M1484 417.5V428.3" stroke="#b616ee" stroke-width="2" fill="none"/><path d="M1479 427.7h10l-5 4.6z" fill="#b616ee"/><path d="M1478.1 433.6h11.8" stroke="#b616ee" stroke-width="2" fill="none"/>
<path d="M1480.4 475.1l5.8 -5.8v11.6z" fill="#b616ee"/>
</g>
<text x="55" y="362" font-size="12" font-family="Liberation Sans, sans-serif" textLength="524" lengthAdjust="spacingAndGlyphs"><tspan fill="#76808f">O=</tspan><tspan fill="#f5494a">44979.7</tspan><tspan fill="#76808f"> H=</tspan><tspan fill="#f5494a">45582.3</tspan><tspan fill="#76808f"> L=</tspan><tspan fill="#f5494a">40333</tspan><tspan fill="#76808f"> C=</tspan><tspan fill="#f5494a">43014</tspan><tspan fill="#76808f"> V=</tspan><tspan fill="#f5494a">441777.45</tspan><tspan fill="#76808f"> CHANGE=</tspan><tspan fill="#f5494a">-4.37%</tspan><tspan fill="#76808f"> AMPLITUDE=</tspan><tspan fill="#f5494a">11.67%</tspan></text>
<path d="M54.8 831.1V857M60.8 832V857M66.8 833.2V857M72.8 833.2V857M78.8 833.2V857M126.8 831.1V857M156.8 829.9V857M162.8 831.1V857M168.8 831.1V857M174.8 832V857M180.8 832V857M186.8 832V857M192.8 832V857M228.8 831.6V857M246.8 831.1V857M264.8 831.1V857M270.8 831.1V857M336.8 831.1V857M348.8 830.2V857M366.8 831.1V857M372.8 831.1V857M390.8 831.1V857M522.8 829.9V857M528.8 829.9V857M534.8 829.9V857M540.8 829.9V857M558.8 829.9V857M570.8 829.9V857M576.8 829.9V857M582.8 831.1V857M588.8 831.1V857M594.8 831.1V857M600.8 831.1V857M606.8 831.1V857M630.8 831.1V857M636.8 832V857M684.8 831.1V857M690.8 831.1V857M696.8 831.1V857M732.8 829.9V857M738.8 829.9V857M744.8 829.9V857M750.8 829.9V857M762.8 829.9V857M768.8 829.9V857M774.8 831.1V857M780.8 833.2V857M786.8 833.2V857M864.8 829.9V857M870.8 829.9V857M924.8 829.9V857M1104.8 829.9V857M1110.8 829.9V857M1116.8 829.9V857M1122.8 829.9V857M1308.8 831.1V857M1320.8 831.1V857M1326.8 831.1V857M1332.8 831.1V857M1350.8 832V857M1380.8 831.1V857M1386.8 831.1V857M1404.8 831.1V857M1476.8 831.1V857M1494.8 831.1V857M1500.8 831.1V857M1506.8 832V857M1518.8 832V857M1542.8 829.9V857M1548.8 831.1V857M1560.8 832V857M1572.8 832V857M1578.8 833.2V857M1584.8 833.2V857" stroke="#7a0044" stroke-width="1.6" fill="none"/>
<path d="M84.8 833.2V857M90.8 833.2V857M96.8 832.3V857M102.8 831.1V857M108.8 829.9V857M114.8 829.9V857M120.8 829.9V857M132.8 831.1V857M138.8 831.1V857M144.8 831.1V857M150.8 830.2V857M198.8 832V857M204.8 832V857M210.8 831.6V857M216.8 831.6V857M222.8 831.6V857M234.8 831.1V857M240.8 831.1V857M252.8 831.1V857M258.8 831.1V857M276.8 830.2V857M282.8 830.2V857M342.8 830.2V857M354.8 830.2V857M360.8 830.2V857M378.8 830.2V857M384.8 830.2V857M396.8 831.1V857M402.8 830.2V857M546.8 829.9V857M552.8 829.9V857M612.8 831.1V857M618.8 831.1V857M624.8 831.1V857M642.8 831.1V857M648.8 831.1V857M654.8 831.1V857M660.8 831.1V857M666.8 831.1V857M672.8 831.1V857M678.8 831.1V857M702.8 830.2V857M708.8 830.2V857M714.8 830.2V857M720.8 830.2V857M756.8 829.9V857M792.8 833.2V857M798.8 833.2V857M804.8 833.2V857M810.8 832V857M816.8 832V857M822.8 832V857M828.8 831.1V857M834.8 831.1V857M840.8 831.1V857M876.8 829.9V857M882.8 829.9V857M888.8 829.9V857M894.8 829.9V857M1128.8 829.9V857M1338.8 831.1V857M1344.8 831.1V857M1356.8 831.1V857M1362.8 831.1V857M1368.8 831.1V857M1374.8 831.1V857M1392.8 831.1V857M1398.8 831.1V857M1410.8 829.9V857M1482.8 829.9V857M1488.8 829.9V857M1512.8 832V857M1524.8 831.1V857M1530.8 829.9V857M1536.8 829.9V857M1554.8 831.1V857M1566.8 832V857M1590.8 833.2V857M1596.8 831.1V857M1602.8 829.9V857" stroke="#ff4242" stroke-width="1.6" fill="none"/>
<path d="M288.8 829V857M294.8 829V857M300.8 829V857M318.8 829.9V857M408.8 829.9V857M414.8 829V857M420.8 829V857M426.8 828.2V857M432.8 826.3V857M438.8 826V857M444.8 825.1V857M504.8 828.2V857M564.8 829.9V857M726.8 829.9V857M846.8 829V857M852.8 829V857M900.8 829.9V857M906.8 829.9V857M912.8 829V857M918.8 829V857M930.8 829.9V857M936.8 829V857M942.8 829V857M948.8 829V857M954.8 829V857M966.8 829V857M972.8 829V857M978.8 829V857M1020.8 829V857M1026.8 829V857M1032.8 829V857M1038.8 829V857M1044.8 828.2V857M1062.8 828.5V857M1074.8 828.5V857M1080.8 828.5V857M1134.8 829V857M1140.8 829V857M1146.8 829V857M1152.8 828.2V857M1158.8 828.2V857M1164.8 827.2V857M1170.8 827.2V857M1176.8 825.1V857M1182.8 824.2V857M1188.8 824.2V857M1278.8 829V857M1284.8 828.2V857M1314.8 829.9V857M1416.8 829.9V857M1422.8 829V857M1428.8 828.2V857M1434.8 826.3V857M1440.8 825.1V857" stroke="#00e65c" stroke-width="1.6" fill="none"/>
<path d="M306.8 829.4V857M312.8 829.9V857M324.8 829.9V857M330.8 829.9V857M450.8 825.1V857M456.8 826.3V857M462.8 826.3V857M468.8 826.3V857M474.8 827.2V857M480.8 828.2V857M486.8 828.2V857M492.8 828.2V857M498.8 828.2V857M510.8 829V857M516.8 829V857M858.8 829.9V857M960.8 828.5V857M984.8 829V857M990.8 829.4V857M996.8 829.4V857M1002.8 829.4V857M1008.8 829.4V857M1014.8 830.2V857M1050.8 828.5V857M1056.8 828.5V857M1068.8 828.5V857M1086.8 829V857M1092.8 829V857M1098.8 829V857M1194.8 824.2V857M1200.8 825.1V857M1206.8 825.1V857M1212.8 826.3V857M1218.8 826.3V857M1224.8 826.3V857M1230.8 827.2V857M1236.8 827.2V857M1242.8 828.2V857M1248.8 828.2V857M1254.8 829V857M1260.8 829V857M1266.8 829V857M1272.8 829V857M1290.8 828.2V857M1296.8 829V857M1302.8 829.9V857M1446.8 826V857M1452.8 826V857M1458.8 826V857M1464.8 827.2V857M1470.8 829V857" stroke="#2e9e2e" stroke-width="1.6" fill="none"/>
<path d="M50 798L86.8 811.4L102.2 813.5L163.9 817.9L198.2 827.2L229 831.6L283.8 836.8L301 834L333.5 834.9L340 834.9L357.1 835.9L374.3 837.4L391.4 839.7L408.5 839.2L420.5 838L432.5 832L442.8 826L451.4 820.8L459.9 817.9L470.2 814.5L487.3 812.3L494.2 810.5L504.5 808.8L514.7 807.5L521.6 808.5L528.5 809.7L545.6 811.1L569.6 810.9L579.8 812.3L597 814.8L614.1 817.4L627.8 819.1L636 821.3L653.1 823.7L673.7 826.8L697.7 828.9L709.7 829.7L752.5 829.4L769.6 830.6L781.6 836.2L793.6 841.4L807.3 845.1L821 847.4L833 849.1L845 848.4L857 846.5L865.6 847.9L893 848.2L910.1 847.4L918.7 846.2L927.2 846.5L932 846.5L949.1 843.6L971.4 839.2L990.2 837.1L1010.8 836.2L1024.5 835.4L1041.6 832.8L1051.9 830.6L1069.1 828.9L1086.2 826L1096.5 825.6L1110.2 826.8L1120.5 828L1129 828L1141 826.3L1154.7 823.7L1171.8 818.2L1180.4 810.5L1189 803.2L1199.3 798.5L1209.5 793.4L1219.8 790L1228 787.4L1238.3 784.8L1257.1 783.6L1279.4 782.8L1286.2 780.6L1300 779.7L1310.2 781.8L1315.4 780.9L1323.9 783.6L1337.6 784.8L1344.5 785.2L1353.1 787.8L1365.1 788.8L1378.8 789.5L1399.3 792.9L1413 792.9L1423.3 790.8L1424 790.5L1429.1 788.3L1441.1 780.2L1454.8 774.6L1466 771.6L1473.7 774.6L1482.2 776.8L1490.8 777.1L1501.1 779.4L1507.9 781.8L1519.9 783.5L1530.2 784L1540.5 784L1554.2 786.6L1566.2 789.5L1574.8 791.4L1583.3 794.8L1592.8 798L1598.7 798L1603.5 797.2" stroke="#ff4646" stroke-width="1.2" fill="none" stroke-linejoin="round"/>
<path d="M50 797.7L86.8 809.7L102.2 812.3L163.9 816.5L198.2 825.1L229 831.1L283.8 836.2L301 834.9L333.5 834.9L340 834.9L357.1 835.4L374.3 837.1L391.4 838.8L408.5 838.8L420.5 838.5L432.5 833.7L442.8 828.5L451.4 824.2L459.9 820L470.2 816.5L487.3 814L494.2 811.4L504.5 809.7L514.7 808.8L521.6 808.8L528.5 809.3L545.6 810.5L569.6 810.9L579.8 811.9L597 814.5L614.1 816.2L627.8 818.2L636 819.6L653.1 822.5L673.7 825.6L697.7 828L709.7 829L752.5 829L769.6 829.9L781.6 834L793.6 838.8L807.3 843.1L821 845.7L833 847.7L845 848.1L857 847.4L865.6 847.9L893 848.1L910.1 847.7L918.7 847L927.2 846.9L932 846.7L949.1 844.3L971.4 840.5L990.2 838L1010.8 836.8L1024.5 835.9L1041.6 834L1051.9 832L1069.1 829.9L1086.2 826.8L1096.5 826.5L1110.2 826.8L1120.5 827.3L1129 828L1141 827.2L1154.7 824.8L1171.8 820.8L1180.4 815.7L1189 809.7L1199.3 802.8L1209.5 796.8L1219.8 793.4L1228 791.7L1238.3 787.8L1257.1 784.8L1279.4 783.6L1286.2 782.3L1300 780.6L1310.2 781.8L1315.4 781.8L1323.9 782.8L1337.6 783.6L1344.5 784.5L1353.1 786.6L1365.1 787.9L1378.8 789.1L1399.3 791.7L1413 792.6L1423.3 791.9L1424 791.7L1429.1 791.4L1441.1 785.4L1454.8 778.5L1466 774.6L1473.7 774.6L1482.2 775.8L1490.8 776.3L1501.1 777.6L1507.9 780.2L1519.9 781.9L1530.2 783.5L1540.5 783.6L1554.2 786L1566.2 787.8L1574.8 789.1L1583.3 792.2L1592.8 795.5L1598.7 796.3L1603.5 796" stroke="#2f9bff" stroke-width="1.2" fill="none" stroke-linejoin="round"/>
<g font-size="12" font-family="Liberation Sans, sans-serif">
<text x="58" y="773" fill="#76808f">&lt;plot_31&gt;</text><text x="128" y="773" fill="#ff9600" letter-spacing="1.3">n/a</text>
<text x="58" y="791" fill="#76808f">&lt;plot_32&gt;</text><text x="130" y="791" fill="#9d65c9" letter-spacing="1.3">n/a</text>
<text x="58" y="809" fill="#76808f">&lt;plot_38&gt;</text><text x="130" y="809" fill="#2196f3" letter-spacing="1.3">n/a</text>
</g>
<g stroke="#555" stroke-width="1.2" fill="#555" stroke-linecap="round">
<path d="M26 364L41.6 364" fill="none"/>
<circle cx="33.8" cy="364" r="1.6" stroke="none"/>
<path d="M27.4 395L41.6 395" fill="none"/>
<circle cx="27.4" cy="395" r="1.6" stroke="none"/>
<circle cx="35" cy="395" r="1.6" stroke="none"/>
<path d="M27.4 426L40.5 426" fill="none"/>
<circle cx="27.4" cy="426" r="1.6" stroke="none"/>
<circle cx="40.5" cy="426" r="1.6" stroke="none"/>
<path d="M33.8 448L33.8 465.6" fill="none"/>
<circle cx="33.8" cy="457" r="1.6" stroke="none"/>
<path d="M33.8 480L33.8 494.6" fill="none"/>
<circle cx="33.8" cy="487" r="1.6" stroke="none"/>
<circle cx="33.8" cy="494.6" r="1.6" stroke="none"/>
<path d="M33.8 512.4L33.8 525.5" fill="none"/>
<circle cx="33.8" cy="512.4" r="1.6" stroke="none"/>
<circle cx="33.8" cy="525.5" r="1.6" stroke="none"/>
<path d="M27.4 556L40 543.5" fill="none"/>
<circle cx="31.6" cy="552" r="1.6" stroke="none"/>
<circle cx="36.4" cy="547.7" r="1.6" stroke="none"/>
<path d="M29.2 585.3L40.5 574.5" fill="none"/>
<circle cx="29.2" cy="585.3" r="1.6" stroke="none"/>
<circle cx="35" cy="580" r="1.6" stroke="none"/>
<path d="M28.4 617.3L38.5 607.4" fill="none"/>
<circle cx="28.4" cy="617.3" r="1.6" stroke="none"/>
<circle cx="38.5" cy="607.4" r="1.6" stroke="none"/>
<path d="M27.4 645.5L42 645.5" fill="none"/>
<circle cx="27.4" cy="645.5" r="1.6" stroke="none"/>
<text x="30" y="644" font-size="7" font-family="Liberation Serif, serif" stroke="none" textLength="11">123</text>
<path d="M24.5 678L37.5 665.5" fill="none"/>
<circle cx="31" cy="672" r="1.6" stroke="none"/>
<path d="M30 684L42.5 671.5" fill="none"/>
<circle cx="34" cy="679.5" r="1.6" stroke="none"/>
<circle cx="38.5" cy="675" r="1.6" stroke="none"/>
<path d="M26 705.5L35.5 697" fill="none"/>
<path d="M27.5 711L40 699" fill="none"/>
<path d="M33 712.5L42 704" fill="none"/>
<circle cx="31.5" cy="707.5" r="1.6" stroke="none"/>
<circle cx="36.5" cy="702.5" r="1.6" stroke="none"/>
<circle cx="37.5" cy="708.5" r="1.6" stroke="none"/>
<path d="M25 730L43 730" fill="none"/>
<path d="M25 733.5L43 733.5" fill="none"/>
<path d="M25 737L43 737" fill="none"/>
<path d="M25 740.3L43 740.3" fill="none"/>
<path d="M25 743.5L43 743.5" fill="none"/>
<circle cx="29.5" cy="730" r="1.6" stroke="none"/>
<circle cx="38.5" cy="730" r="1.6" stroke="none"/>
<circle cx="34" cy="743.5" r="1.6" stroke="none"/>
</g>
<g stroke="#555" stroke-width="1.4" fill="none" stroke-linecap="round" stroke-linejoin="round"><path d="M25.5 761h17M30.5 760.5c0-2.5 7-2.5 7 0M27.5 761.5v11.3q0 2 2 2h9q2 0 2-2v-11.3M32 764.5v6.5M36 764.5v6.5"/></g>
<rect x="1560.5" y="355.5" width="88" height="22.5" rx="3" fill="#fff" stroke="#ebebeb"/><path d="M1625.5 356V378" stroke="#ebebeb" fill="none"/><text x="1568.3" y="370.5" font-size="13" fill="#6a6a6a" font-family="Liberation Sans, sans-serif" textLength="49.5" lengthAdjust="spacingAndGlyphs">Indicator</text><g stroke="#6e6e6e" stroke-width="1.2" fill="none" stroke-linecap="round"><path d="M1632 360.8l3.1 3.3M1642.4 360.8l-3.8 3.2M1631.6 370.7l3.7-3.3M1642.3 370.9l-3.4-3.4"/></g><g fill="#6e6e6e"><circle cx="1632.1" cy="360.9" r="0.9"/><circle cx="1642.2" cy="360.9" r="0.9"/><circle cx="1631.8" cy="370.6" r="0.9"/><circle cx="1642.2" cy="370.8" r="0.9"/></g>
</svg>
<div class="card" style="top:918px;height:277px"></div>
<div class="hbar" style="left:14px;top:933px"></div>
<div class="h" style="left:30px;top:933px">Status info</div>
<svg width="1751" height="1892" viewBox="0 0 1751 1892">
<g stroke="#c6c6c6" stroke-width="1.2" fill="none" stroke-linecap="round">
<path d="M1722 936.1l3.1 3.3M1732 936.1l-3.5 3M1721.9 945.8l3.4-2.9M1731.9 945.9l-3.1-3"/>
</g>
<g fill="#c6c6c6"><circle cx="1722.1" cy="936.2" r="0.9"/><circle cx="1731.8" cy="936.2" r="0.9"/><circle cx="1722.1" cy="945.7" r="0.9"/><circle cx="1731.8" cy="945.8" r="0.9"/></g>
<g stroke="#444" stroke-width="1.25" fill="none" stroke-linecap="round" stroke-linejoin="round">
<path d="M1691 997.6h-1.5a3.2 3.2 0 0 1-.6-6.2a5 4.6 0 0 1 9.9-.2a3.3 3.3 0 0 1 .3 6.6h-2.1"/>
<path d="M1694 992v6.6M1692.3 997l1.7 1.8l1.7-1.8"/>
<circle cx="1722" cy="993" r="2.4"/>
<path d="M1720.7 985.6h2.6l.5 2.1l1.5.85l2.05-.6l1.3 2.25l-1.55 1.5v1.7l1.55 1.5l-1.3 2.25l-2.05-.6l-1.5.85l-.5 2.1h-2.6l-.5-2.1l-1.5-.85l-2.05.6l-1.3-2.25l1.55-1.5v-1.7l-1.55-1.5l1.3-2.25l2.05.6l1.5-.85z"/>
</g>
</svg>
<div class="abs" style="left:14px;top:975px;width:346px;height:43px;border:1px solid #ebebeb;border-bottom:none"></div>
<div class="abs" style="left:91px;top:976px;width:1px;height:42px;background:#ebebeb"></div>
<div class="abs" style="left:212px;top:976px;width:1px;height:42px;background:#ebebeb"></div>
<div class="abs" style="left:14px;top:975px;width:78px;height:2px;background:#1aaa7e"></div>
<div class="t" style="left:35px;top:987px;font-size:14px;line-height:20px;color:#1aaa7e">Asset</div>
<div class="t" style="left:112px;top:987px;font-size:14px;line-height:20px;color:#777;letter-spacing:0.25px">Open orders</div>
<div class="t" style="left:233px;top:987px;font-size:14px;line-height:20px;color:#777;letter-spacing:0.25px">Schedule orders</div>
<table class="tb t2" style="left:14px;top:1017px;width:1720px;font-size:13px">
<colgroup><col style="width:497px"><col style="width:343px"><col style="width:397px"><col style="width:483px"></colgroup>
<tr style="height:39px"><th style="font-size:14px">Futures_Binance</th><th style="font-size:14px">FreeUSDT</th><th style="font-size:14px">FrozenUSDT</th><th style="font-size:14px">Update</th></tr>
<tr style="height:39px"><td style="color:#4d9fef">Current</td><td class="n">62328</td><td>0</td><td style="letter-spacing:0.23px">2024-01-03 08:00:00</td></tr>
<tr style="height:39px"><td>Init</td><td class="n">50000</td><td>0</td><td style="letter-spacing:0.23px">2022-12-29 00:00:00</td></tr>
<tr style="height:39px"><td style="color:#d9453c">Diff</td><td class="n" style="color:#f5222d">12328</td><td>0</td><td style="letter-spacing:0.23px">2024-01-03 08:00:00</td></tr>
</table>

<div class="card" style="top:1215px;height:677px"></div>
<div class="hbar" style="left:18px;top:1234px"></div>
<div class="h" style="left:30px;top:1234px">Earnings overview</div>
<div class="line" style="left:18px;top:1310px;width:1712px"></div>
<div class="tab" style="left:18px;top:1271px;width:221px;height:40px;padding:9px 0 0 16px">Futures_Binance_BTC_USDT</div>
<svg width="1751" height="1892" viewBox="0 0 1751 1892" font-family="DejaVu Sans Condensed, DejaVu Sans, sans-serif">
<text x="320" y="1353.5" font-size="15" fill="#555" textLength="1109" lengthAdjust="spacingAndGlyphs">Initial net value : 50000 Total profit: 24.656 %, Annualized returns (365 days) : 24.257 %, Sharpe ratio : 0.037, Volatility : 5.689 %, Maximum drawdown : 18.713 %</text>
<text x="1629" y="1354" font-size="13" fill="#333" textLength="58.5" lengthAdjust="spacingAndGlyphs">FullScreen</text>
<path d="M1701 1344h16.5M1701 1348.8h16.5M1701 1353.6h16.5" stroke="#555" stroke-width="3" fill="none"/>
<text x="28" y="1385" font-size="12.5" fill="#555" textLength="32.5" lengthAdjust="spacingAndGlyphs">Zoom</text>
<rect x="66" y="1369" width="32" height="22" rx="2" fill="#f7f7f7"/>
<text x="82" y="1385" font-size="12.5" text-anchor="middle" fill="#ccc">1h</text>
<rect x="103" y="1369" width="32" height="22" rx="2" fill="#f7f7f7"/>
<text x="119" y="1385" font-size="12.5" text-anchor="middle" fill="#ccc">3h</text>
<rect x="140" y="1369" width="32" height="22" rx="2" fill="#f7f7f7"/>
<text x="156" y="1385" font-size="12.5" text-anchor="middle" fill="#ccc">8h</text>
<rect x="177" y="1369" width="32" height="22" rx="2" fill="#f7f7f7"/>
<text x="193" y="1385" font-size="12.5" text-anchor="middle" fill="#ccc">12h</text>
<rect x="214" y="1369" width="32" height="22" rx="2" fill="#f7f7f7"/>
<text x="230" y="1385" font-size="12.5" text-anchor="middle" fill="#ccc">24h</text>
<rect x="251" y="1369" width="32" height="22" rx="2" fill="#e6ebf5"/>
<text x="267" y="1385" font-size="12.5" text-anchor="middle" fill="#000" font-weight="bold">All</text>
<path d="M28 1403.5H1708M28 1421.5H1708M28 1439.5H1708M28 1456.5H1708M28 1474.5H1708M28 1491.5H1708M28 1509.5H1708M28 1544.5H1708M28 1561.5H1708M28 1568.5H1708M28 1640.5H1708M28 1646.5H1708M28 1724.5H1708" stroke="#e6e6e6" stroke-width="1" fill="none"/>
<path d="M1708.5 1403V1561M1708.5 1568V1640M1708.5 1646V1718M1708.5 1724V1796M28 1796.5H1708.5" stroke="#ccd6eb" stroke-width="1" fill="none"/>
<path d="M28 1525.5H1708" stroke="#000" stroke-width="1.2" fill="none"/>
<path d="M30.3 1526.1L265 1526.1L268.4 1524.9L273.6 1521.3L277.8 1521.3L281.3 1525.5L286.7 1538.9L291.5 1535.8L291.6 1535.6L372.5 1535.6L377.1 1511.1L381.6 1531.7L386.2 1525.1L390.5 1503.4L395.1 1492.3L399.9 1488.3L404.2 1486.6L408.5 1482L412.8 1474.3L417.6 1474.3L421.8 1482L427 1487.6L431.3 1485.1L435.5 1498.2L440.2 1496.5L444.4 1476.3L448.7 1478.5L453.4 1475.6L457.8 1477.3L462.4 1481.1L466.7 1482.3L471.5 1485.9L498.4 1485.9L503.2 1478.9L507.5 1481.6L512.1 1475.5L516.7 1478.2L521.2 1476.8L525.5 1476.8L530.1 1490.2L534.4 1489.3L714.7 1489.3L719.4 1495.2L723.8 1494.5L728.5 1505.4L732.7 1505.4L737 1502.9L741.6 1500L746.1 1501.7L750.7 1518.3L755.4 1521.9L804.7 1521.9L809.3 1521.4L813.8 1523.4L818.4 1514.9L822.7 1477.7L827.3 1477.7L831.8 1460.6L831.6 1460.6L836.3 1471.2L840.9 1468.8L845.4 1471.2L850 1470L854.3 1471.2L858.9 1470.8L863.3 1476.3L868 1469.5L872.3 1470.5L876.9 1463.6L881.3 1464.8L886 1472.9L890.2 1472.2L894.9 1479.4L922.4 1479.4L927.1 1482L931.4 1494L1043.6 1494L1048.7 1496L1133.6 1496L1138.3 1502.5L1142.6 1507.2L1146.8 1521.9L1174.2 1521.9L1178.5 1527.7L1183.3 1527L1187.6 1528.7L1192.2 1537.3L1192.2 1537.3L1196.5 1536.8L1205.9 1525.7L1210.2 1530.3L1214.8 1528.2L1219.3 1527.7L1223.6 1518L1228.2 1515.7L1232.8 1518.8L1237.1 1527L1241.6 1526.5L1246.2 1526.9L1250.8 1527L1255.3 1531.7L1259.9 1533.4L1264.2 1531.1L1268.8 1521.4L1273.3 1523.4L1277.9 1521.7L1282.2 1519.7L1286.8 1508.5L1291.3 1517.4L1295.5 1516.8L1300.2 1514.9L1304.4 1509.7L1308.7 1509.4L1313.4 1509.9L1317.8 1515.9L1322.4 1516.8L1327.2 1524.8L1331.5 1523.6L1349.8 1523.6L1354.1 1524.3L1358.9 1527L1363.2 1521.4L1367.8 1510.2L1372.1 1506L1376.7 1507.2L1381.5 1494.6L1385.8 1459.1L1390.2 1445.9L1394.8 1455.7L1399.5 1456.2L1403.8 1454L1408.2 1451.1L1412.8 1448.8L1417.5 1453.5L1421.9 1453.5L1426.2 1449.3L1430.5 1448L1435.4 1448.8L1439.7 1446.6L1444.2 1444.2L1448.8 1448.8L1453.4 1442.5L1457.9 1419.2L1462.5 1420.2L1466.8 1420.9L1471.4 1419.7L1475.9 1423.6L1480.5 1432.6L1485.1 1440.3L1489.4 1456.5L1493.7 1460L1561.9 1460L1566.2 1456.5L1570.8 1440.3L1575.6 1429.1L1579.5 1414.6L1583.8 1415.9L1587.9 1415.4L1592.4 1414.6L1597.9 1416.3L1602.1 1436.3L1606.8 1441.5L1611 1439.9L1705.8 1439.9L1705.8 1525.5L30.3 1525.5Z" fill="#7cb5ec" fill-opacity="0.2" stroke="none"/>
<path d="M30.3 1526.1L265 1526.1L268.4 1524.9L273.6 1521.3L277.8 1521.3L281.3 1525.5L286.7 1538.9L291.5 1535.8L291.6 1535.6L372.5 1535.6L377.1 1511.1L381.6 1531.7L386.2 1525.1L390.5 1503.4L395.1 1492.3L399.9 1488.3L404.2 1486.6L408.5 1482L412.8 1474.3L417.6 1474.3L421.8 1482L427 1487.6L431.3 1485.1L435.5 1498.2L440.2 1496.5L444.4 1476.3L448.7 1478.5L453.4 1475.6L457.8 1477.3L462.4 1481.1L466.7 1482.3L471.5 1485.9L498.4 1485.9L503.2 1478.9L507.5 1481.6L512.1 1475.5L516.7 1478.2L521.2 1476.8L525.5 1476.8L530.1 1490.2L534.4 1489.3L714.7 1489.3L719.4 1495.2L723.8 1494.5L728.5 1505.4L732.7 1505.4L737 1502.9L741.6 1500L746.1 1501.7L750.7 1518.3L755.4 1521.9L804.7 1521.9L809.3 1521.4L813.8 1523.4L818.4 1514.9L822.7 1477.7L827.3 1477.7L831.8 1460.6" stroke="#6eaee6" stroke-width="2" fill="none" stroke-linejoin="round"/>
<path d="M831.6 1460.6L836.3 1471.2L840.9 1468.8L845.4 1471.2L850 1470L854.3 1471.2L858.9 1470.8L863.3 1476.3L868 1469.5L872.3 1470.5L876.9 1463.6L881.3 1464.8L886 1472.9L890.2 1472.2L894.9 1479.4L922.4 1479.4L927.1 1482L931.4 1494L1043.6 1494L1048.7 1496L1133.6 1496L1138.3 1502.5L1142.6 1507.2L1146.8 1521.9L1174.2 1521.9L1178.5 1527.7L1183.3 1527L1187.6 1528.7L1192.2 1537.3" stroke="#6eaee6" stroke-width="2" fill="none" stroke-linejoin="round" stroke-dasharray="5 3"/>
<path d="M1192.2 1537.3L1196.5 1536.8L1205.9 1525.7L1210.2 1530.3L1214.8 1528.2L1219.3 1527.7L1223.6 1518L1228.2 1515.7L1232.8 1518.8L1237.1 1527L1241.6 1526.5L1246.2 1526.9L1250.8 1527L1255.3 1531.7L1259.9 1533.4L1264.2 1531.1L1268.8 1521.4L1273.3 1523.4L1277.9 1521.7L1282.2 1519.7L1286.8 1508.5L1291.3 1517.4L1295.5 1516.8L1300.2 1514.9L1304.4 1509.7L1308.7 1509.4L1313.4 1509.9L1317.8 1515.9L1322.4 1516.8L1327.2 1524.8L1331.5 1523.6L1349.8 1523.6L1354.1 1524.3L1358.9 1527L1363.2 1521.4L1367.8 1510.2L1372.1 1506L1376.7 1507.2L1381.5 1494.6L1385.8 1459.1L1390.2 1445.9L1394.8 1455.7L1399.5 1456.2L1403.8 1454L1408.2 1451.1L1412.8 1448.8L1417.5 1453.5L1421.9 1453.5L1426.2 1449.3L1430.5 1448L1435.4 1448.8L1439.7 1446.6L1444.2 1444.2L1448.8 1448.8L1453.4 1442.5L1457.9 1419.2L1462.5 1420.2L1466.8 1420.9L1471.4 1419.7L1475.9 1423.6L1480.5 1432.6L1485.1 1440.3L1489.4 1456.5L1493.7 1460L1561.9 1460L1566.2 1456.5L1570.8 1440.3L1575.6 1429.1L1579.5 1414.6L1583.8 1415.9L1587.9 1415.4L1592.4 1414.6L1597.9 1416.3L1602.1 1436.3L1606.8 1441.5L1611 1439.9L1705.8 1439.9" stroke="#6eaee6" stroke-width="2" fill="none" stroke-linejoin="round"/>
<circle cx="1592.4" cy="1414.6" r="5" fill="#16a216" stroke="#222" stroke-width="1"/>
<path d="M1592.4 1412.6v6" stroke="#0a500a" stroke-width="1" fill="none"/><circle cx="1592.4" cy="1411.6" r="0.9" fill="#0a500a"/>
<circle cx="1191.5" cy="1540.6" r="5" fill="#16a216" stroke="#f0402a" stroke-width="1"/>
<path d="M1191.5 1538.6v6" stroke="#0a500a" stroke-width="1" fill="none"/><circle cx="1191.5" cy="1537.6" r="0.9" fill="#0a500a"/>
<path d="M267.9 1604.9h3V1605.8h-3zM272.1 1602.2h3V1605.8h-3zM276.8 1604.9h3V1605.8h-3zM290.1 1603h3V1605.8h-3zM375.8 1584.2h3V1605.8h-3zM384.7 1601h3V1605.8h-3zM389 1586.9h3V1605.8h-3zM393.8 1595.8h3V1605.8h-3zM398.7 1601.8h3V1605.8h-3zM402.7 1603.9h3V1605.8h-3zM407.8 1601h3V1605.8h-3zM412.1 1598.9h3V1605.8h-3zM430.1 1604.1h3V1605.8h-3zM439 1604.1h3V1605.8h-3zM443.8 1588.1h3V1605.8h-3zM452.9 1603h3V1605.8h-3zM502.1 1598.9h3V1605.8h-3zM511 1600.1h3V1605.8h-3zM520 1604.7h3V1605.8h-3zM533.7 1604.9h3V1605.8h-3zM722.7 1604.9h3V1605.8h-3zM735.9 1603h3V1605.8h-3zM740.7 1603h3V1605.8h-3zM807.8 1604.9h3V1605.8h-3zM816.9 1597.9h3V1605.8h-3zM822 1573.9h3V1605.8h-3zM831.1 1590.2h3V1605.8h-3zM840 1604.1h3V1605.8h-3zM849.1 1604.9h3V1605.8h-3zM858 1604.9h3V1605.8h-3zM867 1600.1h3V1605.8h-3zM876 1598.9h3V1605.8h-3zM889 1604.9h3V1605.8h-3zM1182.2 1604.9h3V1605.8h-3zM1195.6 1604.9h3V1605.8h-3zM1199.9 1601h3V1605.8h-3zM1204.7 1600.1h3V1605.8h-3zM1213.9 1603h3V1605.8h-3zM1218.2 1604.9h3V1605.8h-3zM1223 1597h3V1605.8h-3zM1227.3 1604.1h3V1605.8h-3zM1240.7 1604.9h3V1605.8h-3zM1262.9 1604.1h3V1605.8h-3zM1267.9 1598.1h3V1605.8h-3zM1277 1604.1h3V1605.8h-3zM1281.3 1604.1h3V1605.8h-3zM1285.9 1596.2h3V1605.8h-3zM1295 1604.9h3V1605.8h-3zM1299.2 1604.1h3V1605.8h-3zM1304 1601h3V1605.8h-3zM1330.9 1604.9h3V1605.8h-3zM1362.1 1601h3V1605.8h-3zM1366.9 1596.2h3V1605.8h-3zM1371.2 1601.8h3V1605.8h-3zM1380.1 1595h3V1605.8h-3zM1384.9 1576.1h3V1605.8h-3zM1389.2 1593.3h3V1605.8h-3zM1402.9 1604.1h3V1605.8h-3zM1407.5 1603h3V1605.8h-3zM1411.9 1603h3V1605.8h-3zM1425.1 1602.2h3V1605.8h-3zM1429.9 1604.1h3V1605.8h-3zM1439 1604.1h3V1605.8h-3zM1443.3 1604.1h3V1605.8h-3zM1452.2 1600.1h3V1605.8h-3zM1457 1586.1h3V1605.8h-3zM1470.2 1604.9h3V1605.8h-3zM1564.9 1603h3V1605.8h-3zM1569.9 1592.1h3V1605.8h-3zM1573.8 1597h3V1605.8h-3zM1578.6 1592.1h3V1605.8h-3zM1588 1604.9h3V1605.8h-3zM1592.2 1603h3V1605.8h-3zM1610.1 1604.1h3V1605.8h-3z" fill="#90b058"/>
<path d="M281.1 1605.8h3V1609.9h-3zM285.8 1605.8h3V1615.9h-3zM380.1 1605.8h3V1622.7h-3zM421 1605.8h3V1611.8h-3zM425.8 1605.8h3V1609.9h-3zM434.9 1605.8h3V1615.9h-3zM448.1 1605.8h3V1607h-3zM457.2 1605.8h3V1607h-3zM461.8 1605.8h3V1608.7h-3zM470.9 1605.8h3V1607.8h-3zM506.9 1605.8h3V1607.8h-3zM515.8 1605.8h3V1607.8h-3zM529 1605.8h3V1615.9h-3zM717.9 1605.8h3V1610.9h-3zM727 1605.8h3V1613.8h-3zM744.9 1605.8h3V1607h-3zM750.1 1605.8h3V1619h-3zM754 1605.8h3V1609h-3zM812.6 1605.8h3V1607h-3zM835 1605.8h3V1615h-3zM843.9 1605.8h3V1607.8h-3zM853 1605.8h3V1606.6h-3zM861.9 1605.8h3V1609.9h-3zM879.9 1605.8h3V1607h-3zM884.7 1605.8h3V1613h-3zM893.9 1605.8h3V1610.9h-3zM925 1605.8h3V1607.8h-3zM929.9 1605.8h3V1615.9h-3zM1046.9 1605.8h3V1606.6h-3zM1137 1605.8h3V1610.9h-3zM1141.6 1605.8h3V1607.8h-3zM1145.9 1605.8h3V1617.8h-3zM1177.9 1605.8h3V1609.9h-3zM1186.7 1605.8h3V1606.6h-3zM1191 1605.8h3V1613h-3zM1209 1605.8h3V1609.9h-3zM1231.6 1605.8h3V1607.8h-3zM1235.9 1605.8h3V1611.8h-3zM1253.8 1605.8h3V1609h-3zM1258.6 1605.8h3V1606.6h-3zM1272.2 1605.8h3V1607h-3zM1290.2 1605.8h3V1613h-3zM1316.9 1605.8h3V1610.9h-3zM1325.8 1605.8h3V1613h-3zM1357.8 1605.8h3V1607.8h-3zM1376 1605.8h3V1607h-3zM1394 1605.8h3V1613.8h-3zM1416.2 1605.8h3V1609.9h-3zM1447.9 1605.8h3V1608.7h-3zM1474.8 1605.8h3V1608.7h-3zM1479.1 1605.8h3V1612.6h-3zM1483.5 1605.8h3V1611.8h-3zM1487.8 1605.8h3V1619.8h-3zM1492.8 1605.8h3V1607.5h-3zM1583.2 1605.8h3V1607h-3zM1597 1605.8h3V1607h-3zM1600.9 1605.8h3V1625h-3zM1605.9 1605.8h3V1609.9h-3z" fill="#7a5a9a"/>
<rect x="263.4" y="1658.8" width="2.6" height="58.2" fill="#f7a35c"/>
<rect x="290.3" y="1658.8" width="3" height="58.2" fill="#f7a35c"/>
<rect x="265" y="1658" width="26.1" height="59" fill="#a0a3ee"/>
<rect x="371.4" y="1659.5" width="2.6" height="57.5" fill="#f7a35c"/>
<rect x="465.9" y="1659.5" width="3" height="57.5" fill="#f7a35c"/>
<rect x="373" y="1658.7" width="93.7" height="58.3" fill="#a0a3ee"/>
<rect x="497.2" y="1663.1" width="2.6" height="53.9" fill="#f7a35c"/>
<rect x="529.3" y="1663.1" width="3" height="53.9" fill="#f7a35c"/>
<rect x="498.8" y="1662.3" width="31.3" height="54.7" fill="#a0a3ee"/>
<rect x="713.5" y="1660.5" width="2.6" height="56.5" fill="#f7a35c"/>
<rect x="749.9" y="1660.5" width="3" height="56.5" fill="#f7a35c"/>
<rect x="715.1" y="1659.7" width="35.6" height="57.3" fill="#a0a3ee"/>
<rect x="803.4" y="1662.6" width="2.6" height="54.4" fill="#f7a35c"/>
<rect x="889.2" y="1662.6" width="3" height="54.4" fill="#f7a35c"/>
<rect x="805" y="1661.8" width="85" height="55.2" fill="#a0a3ee"/>
<rect x="920.9" y="1666" width="2.6" height="51" fill="#f7a35c"/>
<rect x="925.7" y="1666" width="3" height="51" fill="#f7a35c"/>
<rect x="922.5" y="1665.2" width="4" height="51.8" fill="#a0a3ee"/>
<rect x="1042.6" y="1664.3" width="2.6" height="52.7" fill="#f7a35c"/>
<rect x="1047.2" y="1664.3" width="3" height="52.7" fill="#f7a35c"/>
<rect x="1044.2" y="1663.5" width="3.8" height="53.5" fill="#a0a3ee"/>
<rect x="1132.4" y="1660.8" width="2.6" height="56.2" fill="#f7a35c"/>
<rect x="1146.2" y="1660.8" width="3" height="56.2" fill="#f7a35c"/>
<rect x="1134" y="1660" width="13" height="57" fill="#a0a3ee"/>
<rect x="1172.9" y="1662.1" width="2.6" height="54.9" fill="#f7a35c"/>
<rect x="1191.2" y="1662.1" width="3" height="54.9" fill="#f7a35c"/>
<rect x="1174.5" y="1661.3" width="17.5" height="55.7" fill="#a0a3ee"/>
<rect x="1195.8" y="1663.5" width="2.6" height="53.5" fill="#f7a35c"/>
<rect x="1326.2" y="1663.5" width="3" height="53.5" fill="#f7a35c"/>
<rect x="1197.4" y="1662.7" width="129.6" height="54.3" fill="#a0a3ee"/>
<rect x="1348.5" y="1666.8" width="2.6" height="50.2" fill="#f7a35c"/>
<rect x="1479.4" y="1666.8" width="3" height="50.2" fill="#f7a35c"/>
<rect x="1350.1" y="1666" width="130.1" height="51" fill="#a0a3ee"/>
<rect x="1483.4" y="1670.3" width="2.6" height="46.7" fill="#f7a35c"/>
<rect x="1488.9" y="1670.3" width="3" height="46.7" fill="#f7a35c"/>
<rect x="1485" y="1669.5" width="4.7" height="47.5" fill="#a0a3ee"/>
<rect x="1560.5" y="1674.2" width="2.6" height="42.8" fill="#f7a35c"/>
<rect x="1605.9" y="1674.2" width="3" height="42.8" fill="#f7a35c"/>
<rect x="1562.1" y="1673.4" width="44.6" height="43.6" fill="#a0a3ee"/>
<path d="M28 1717.5H1708" stroke="#2f9fd6" stroke-width="1.6" fill="none"/>
<clipPath id="uclip"><rect x="28" y="1720" width="1680" height="75.75"/></clipPath>
<path d="M30 1795.8L268.8 1795.8L268.8 1736.8L273.1 1736.8L273.1 1737.5L282.6 1737.5L282.6 1736.3L287.3 1736.3L287.3 1734.6L291.6 1734.6L291.6 1735.5L295.9 1735.5L295.9 1795.8L377.1 1795.8L377.1 1740.6L381.6 1740.6L381.6 1737.7L386.2 1737.7L386.2 1738.5L390.5 1738.5L390.5 1742L395.3 1742L395.3 1743.5L400.2 1743.5L400.2 1744.4L404.2 1744.4L404.2 1744.9L409.3 1744.9L409.3 1745.4L413.6 1745.4L413.6 1746.1L421.3 1746.1L421.3 1745.2L426.5 1745.2L426.5 1744.4L435.9 1744.4L435.9 1742.8L444.4 1742.8L444.4 1745.2L462.4 1745.2L462.4 1744.9L471.5 1744.9L471.5 1795.8L503.6 1795.8L503.6 1738L507.8 1738L507.8 1737.5L512.5 1737.5L512.5 1738.4L521.5 1738.4L521.5 1738L530.5 1738L530.5 1736.3L534.7 1736.3L534.7 1795.8L719.4 1795.8L719.4 1735.8L728.5 1735.8L728.5 1734.3L737.9 1734.3L737.9 1734.6L742.2 1734.6L742.2 1735.1L746.4 1735.1L746.4 1734.6L751.1 1734.6L751.1 1731.7L755.5 1731.7L755.5 1795.8L809.3 1795.8L809.3 1736.7L818.4 1736.7L818.4 1737.7L822.7 1737.7L822.7 1743.2L831.8 1743.2L831.8 1745.2L836.6 1745.2L836.6 1744.9L845.5 1744.9L845.5 1744.5L864.3 1744.5L864.3 1743.7L868.6 1743.7L868.6 1744.4L877.5 1744.4L877.5 1745.2L886.2 1745.2L886.2 1744.4L895.1 1744.4L895.1 1795.8L926.5 1795.8L926.5 1736.3L931.4 1736.3L931.4 1795.8L1048.4 1795.8L1048.4 1736.3L1052.7 1736.3L1052.7 1795.8L1138.5 1795.8L1138.5 1735.5L1143.1 1735.5L1143.1 1735.1L1147.4 1735.1L1147.4 1732.6L1151.7 1732.6L1151.7 1795.8L1178.8 1795.8L1178.8 1735.8L1188.2 1735.8L1188.2 1735.5L1192.5 1735.5L1192.5 1734.3L1196.6 1734.3L1196.6 1795.8L1201.4 1795.8L1201.4 1737.7L1206.2 1737.7L1206.2 1738.4L1210.8 1738.4L1210.8 1737.7L1215.4 1737.7L1215.4 1738L1219.7 1738L1219.7 1738.5L1224.5 1738.5L1224.5 1740.1L1233.1 1740.1L1233.1 1739.4L1238.2 1739.4L1238.2 1738.5L1255.3 1738.5L1255.3 1737.7L1264.4 1737.7L1264.4 1738L1269 1738L1269 1739.4L1278.5 1739.4L1278.5 1739.2L1287.4 1739.2L1287.4 1741.1L1291.7 1741.1L1291.7 1739.7L1300.7 1739.7L1300.7 1740.6L1305.5 1740.6L1305.5 1741.1L1318.4 1741.1L1318.4 1740.3L1327.3 1740.3L1327.3 1738.5L1332.1 1738.5L1332.1 1795.8L1354.7 1795.8L1354.7 1736.3L1363.6 1736.3L1363.6 1737.2L1368.4 1737.2L1368.4 1738.9L1372.7 1738.9L1372.7 1739.4L1381.6 1739.4L1381.6 1741.5L1386.1 1741.5L1386.1 1745.7L1390.7 1745.7L1390.7 1747.5L1395.5 1747.5L1395.5 1746.3L1404.4 1746.3L1404.4 1746.6L1411.2 1746.6L1411.2 1747.1L1417.8 1747.1L1417.8 1746.3L1426.7 1746.3L1426.7 1746.9L1435.7 1746.9L1435.7 1747.5L1444.8 1747.5L1444.8 1747.1L1453.7 1747.1L1453.7 1748L1458.5 1748L1458.5 1750.4L1476.3 1750.4L1476.3 1749.7L1480.6 1749.7L1480.6 1748.8L1485.4 1748.8L1485.4 1795.8L1489.3 1795.8L1489.3 1734.6L1494.3 1734.6L1494.3 1795.8L1566.4 1795.8L1566.4 1737.2L1571 1737.2L1571 1738.9L1575.3 1738.9L1575.3 1740.3L1580.1 1740.3L1580.1 1742.3L1593.7 1742.3L1593.7 1742.8L1598.5 1742.8L1598.5 1742L1602.4 1742L1602.4 1739.7L1607 1739.7L1607 1739.2L1611.6 1739.2L1611.6 1795.8L1706 1795.8" stroke="#7d7340" stroke-width="1.35" fill="none" stroke-linejoin="miter" clip-path="url(#uclip)"/>
<g font-size="11" fill="#666" text-anchor="end">
<text x="1704" y="1418.5">15k</text>
<text x="1704" y="1436.5">12.5k</text>
<text x="1704" y="1453.5">10k</text>
<text x="1704" y="1471.5">7.5k</text>
<text x="1704" y="1488.5">5k</text>
<text x="1704" y="1506.5">2.5k</text>
<text x="1704" y="1522.5">0</text>
<text x="1704" y="1541.5">−2.5k</text>
<text x="1704" y="1558.5">−5k</text>
<text x="1704" y="1637.5">−6k</text>
<text x="1704" y="1715.5">0</text>
<text x="1704" y="1793.5">0</text>
</g>
<g font-size="13" fill="#666" text-anchor="middle">
<text transform="translate(1718,1482.5) rotate(90)">PnL</text>
<text transform="translate(1718,1604) rotate(90)">Period P&amp;L</text>
<text transform="translate(1718,1682.5) rotate(90)">vol/position</text>
<text transform="translate(1718,1760) rotate(90)">utilization</text>
</g>
<g font-size="11" fill="#666" text-anchor="middle">
<text x="47.6" y="1815" textLength="36" lengthAdjust="spacingAndGlyphs">Jan '23</text>
<text x="187.2" y="1815" textLength="38.5" lengthAdjust="spacingAndGlyphs">Feb '23</text>
<text x="313.3" y="1815" textLength="38.5" lengthAdjust="spacingAndGlyphs">Mar '23</text>
<text x="453" y="1815" textLength="38.5" lengthAdjust="spacingAndGlyphs">Apr '23</text>
<text x="588.1" y="1815" textLength="38.5" lengthAdjust="spacingAndGlyphs">May '23</text>
<text x="727.7" y="1815" textLength="36" lengthAdjust="spacingAndGlyphs">Jun '23</text>
<text x="862.8" y="1815" textLength="36" lengthAdjust="spacingAndGlyphs">Jul '23</text>
<text x="1002.4" y="1815" textLength="38.5" lengthAdjust="spacingAndGlyphs">Aug '23</text>
<text x="1142.1" y="1815" textLength="38.5" lengthAdjust="spacingAndGlyphs">Sep '23</text>
<text x="1277.2" y="1815" textLength="38.5" lengthAdjust="spacingAndGlyphs">Oct '23</text>
<text x="1416.8" y="1815" textLength="38.5" lengthAdjust="spacingAndGlyphs">Nov '23</text>
<text x="1551.9" y="1815" textLength="38.5" lengthAdjust="spacingAndGlyphs">Dec '23</text>
<text x="1691.6" y="1815" textLength="36" lengthAdjust="spacingAndGlyphs">Jan '24</text>
</g>
<path d="M47.6 1797v9M187.2 1797v9M313.3 1797v9M453 1797v9M588.1 1797v9M727.7 1797v9M862.8 1797v9M1002.4 1797v9M1142.1 1797v9M1277.2 1797v9M1416.8 1797v9M1551.9 1797v9M1691.6 1797v9" stroke="#ccd6eb" stroke-width="1" fill="none"/>
<g font-size="12" font-weight="bold" fill="#333">
<circle cx="560" cy="1816" r="6" fill="#7cb5ec"/><text x="573" y="1820.5" textLength="22" lengthAdjust="spacingAndGlyphs">PnL</text>
<circle cx="623" cy="1816" r="6" fill="#90ed7d"/><text x="636" y="1820.5" textLength="66" lengthAdjust="spacingAndGlyphs">Period P&amp;L</text>
<circle cx="731" cy="1816" r="6" fill="#f7a35c"/><text x="744" y="1820.5" textLength="58.5" lengthAdjust="spacingAndGlyphs">Trade Vol</text>
<circle cx="831.4" cy="1816" r="6" fill="#8085e9"/><text x="844.4" y="1820.5" textLength="80.4" lengthAdjust="spacingAndGlyphs">Position long</text>
<circle cx="953.3" cy="1816" r="6" fill="#f15c80"/><text x="966.3" y="1820.5" textLength="86" lengthAdjust="spacingAndGlyphs">Position short</text>
<path d="M1073.5 1816.5h15.5" stroke="#a89a6a" stroke-width="1.6" fill="none"/><text x="1094.5" y="1820.5" textLength="100" lengthAdjust="spacingAndGlyphs">Asset utilization</text>
</g>
<rect x="28" y="1842.5" width="1680" height="20" fill="#c4d2e7"/>
<path d="M28 1842.5H1708M28 1862.5H1708" stroke="#ccd0d8" stroke-width="1" fill="none"/>
<g font-size="11.5" fill="#aeb8c8">
<text x="48.9" y="1857.6">Jan '23</text>
<text x="316" y="1857.6">Mar '23</text>
<text x="591.1" y="1857.6">May '23</text>
<text x="866" y="1857.6">Jul '23</text>
<text x="1145.5" y="1857.6">Sep '23</text>
<text x="1420.5" y="1857.6">Nov '23</text>
<text x="1697" y="1858.5">J&#8230;</text>
</g>
<path d="M45.4 1843V1862M312.5 1843V1862M587.6 1843V1862M862.5 1843V1862M1142 1843V1862M1417 1843V1862" stroke="#d6deea" stroke-width="1" fill="none"/>
<rect x="23.5" y="1844.5" width="8" height="15" rx="1" fill="#f2f2f2" stroke="#999"/>
<path d="M26.5 1848.5v7M28.5 1848.5v7" stroke="#666" stroke-width="1" fill="none"/>
<rect x="1702.5" y="1844.5" width="8" height="15" rx="1" fill="#f2f2f2" stroke="#999"/>
<path d="M1705.5 1848.5v7M1707.5 1848.5v7" stroke="#666" stroke-width="1" fill="none"/>
</svg>
</body></html>
